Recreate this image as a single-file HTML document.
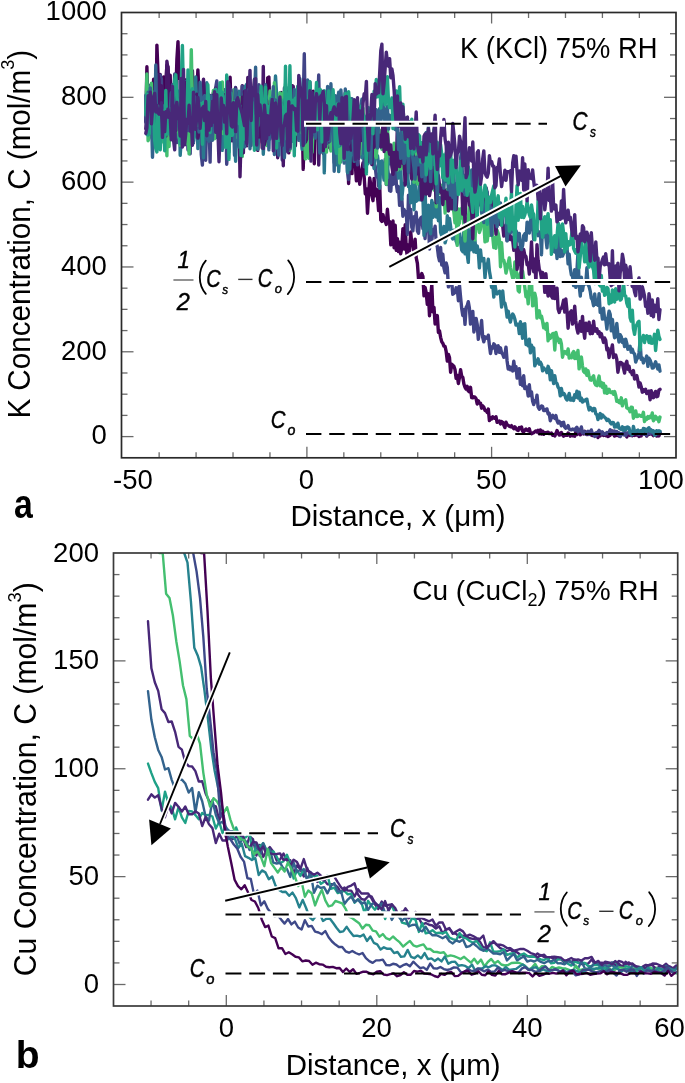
<!DOCTYPE html><html><head><meta charset="utf-8"><style>html,body{margin:0;padding:0;background:#fff;}svg{display:block;will-change:transform;}</style></head><body><svg width="685" height="1083" viewBox="0 0 685 1083">
<rect width="685" height="1083" fill="#fff"/>
<defs><clipPath id="ca"><rect x="121.5" y="12.5" width="554.5" height="445.3"/></clipPath><clipPath id="cb"><rect x="113.5" y="553.0" width="564.2" height="453.0"/></clipPath></defs>
<g clip-path="url(#ca)" fill="none" stroke-width="3.4" stroke-linejoin="round" stroke-linecap="round">
<polyline points="145.8,121.0 146.9,66.7 148.1,109.9 149.2,97.5 150.3,93.8 151.4,107.3 152.5,120.0 153.6,79.3 154.7,85.2 155.8,131.9 156.9,45.1 158.0,73.0 159.1,108.0 160.2,74.5 161.4,102.2 162.5,94.1 163.6,77.0 164.7,118.4 165.8,81.5 166.9,65.0 168.0,66.6 169.1,99.4 170.2,75.3 171.3,126.2 172.4,96.9 173.5,84.7 174.7,120.9 175.8,95.6 176.9,59.4 178.0,41.6 179.1,78.7 180.2,77.8 181.3,113.9 182.4,119.0 183.5,123.2 184.6,84.1 185.7,80.0 186.8,108.5 188.0,120.0 189.1,90.4 190.2,89.4 191.3,98.4 192.4,70.6 193.5,98.0 194.6,97.6 195.7,118.6 196.8,93.9 197.9,69.9 199.0,95.8 200.1,95.9 201.3,88.9 202.4,92.4 203.5,87.7 204.6,87.9 205.7,86.7 206.8,115.2 207.9,93.9 209.0,132.0 210.1,95.5 211.2,126.1 212.3,103.1 213.4,92.8 214.5,110.8 215.7,101.2 216.8,135.7 217.9,120.9 219.0,91.1 220.1,127.6 221.2,92.8 222.3,133.0 223.4,124.0 224.5,128.1 225.6,107.1 226.7,97.2 227.8,128.5 229.0,111.8 230.1,77.2 231.2,114.9 232.3,124.8 233.4,101.8 234.5,113.8 235.6,123.1 236.7,144.4 237.8,94.2 238.9,121.1 240.0,110.3 241.1,130.9 242.3,85.6 243.4,96.4 244.5,92.1 245.6,113.1 246.7,102.2 247.8,94.2 248.9,91.8 250.0,105.5 251.1,112.8 252.2,118.6 253.3,126.1 254.4,130.4 255.6,105.1 256.7,116.8 257.8,150.4 258.9,115.3 260.0,92.1 261.1,117.8 262.2,148.0 263.3,115.1 264.4,97.8 265.5,109.1 266.6,121.2 267.7,77.9 268.9,77.0 270.0,115.2 271.1,97.9 272.2,106.1 273.3,98.8 274.4,86.1 275.5,98.3 276.6,112.3 277.7,126.5 278.8,129.6 279.9,114.8 281.0,92.5 282.2,108.9 283.3,113.8 284.4,110.1 285.5,114.4 286.6,104.9 287.7,136.7 288.8,152.9 289.9,123.8 291.0,137.6 292.1,85.7 293.2,119.3 294.3,121.3 295.4,145.7 296.6,111.7 297.7,128.9 298.8,96.5 299.9,102.0 301.0,132.5 302.1,110.6 303.2,169.4 304.3,131.5 305.4,96.1 306.5,105.0 307.6,116.8 308.7,121.1 309.9,147.3 311.0,146.9 312.1,118.5 313.2,91.2 314.3,163.8 315.4,113.7 316.5,115.2 317.6,109.9 318.7,143.6 319.8,138.4 320.9,129.1 322.0,149.0 323.2,153.4 324.3,148.1 325.4,134.6 326.5,127.6 327.6,135.3 328.7,134.2 329.8,148.0 330.9,149.3 332.0,118.5 333.1,139.2 334.2,140.4 335.3,123.9 336.5,119.6 337.6,119.9 338.7,135.2 339.8,143.6 340.9,138.9 342.0,141.7 343.1,122.9 344.2,141.9 345.3,137.5 346.4,149.3 347.5,128.4 348.6,183.5 349.8,146.8 350.9,142.6 352.0,173.6 353.1,125.1 354.2,161.8 355.3,164.2 356.4,180.8 357.5,156.3 358.6,169.7 359.7,184.2 360.8,174.7 361.9,169.5 363.0,163.0 364.2,177.3 365.3,193.8 366.4,189.0 367.5,213.2 368.6,194.2 369.7,177.9 370.8,184.8 371.9,195.3 373.0,200.7 374.1,178.4 375.2,195.8 376.3,189.3 377.5,196.6 378.6,210.5 379.7,185.2 380.8,220.0 381.9,221.4 383.0,214.6 384.1,220.6 385.2,221.3 386.3,224.5 387.4,209.3 388.5,222.4 389.6,221.5 390.8,244.9 391.9,239.2 393.0,221.0 394.1,247.7 395.2,225.3 396.3,250.4 397.4,238.6 398.5,251.6 399.6,242.1 400.7,253.8 401.8,247.7 402.9,228.6 404.1,249.0 405.2,224.8 406.3,249.5 407.4,256.5 408.5,244.6 409.6,250.6 410.7,232.0 411.8,243.6 412.9,244.0 414.0,252.5 415.1,239.1 416.2,257.6 417.4,263.4 418.5,278.6 419.6,282.4 420.7,276.6 421.8,273.6 422.9,276.3 424.0,295.9 425.1,287.4 426.2,292.6 427.3,304.4 428.4,293.8 429.5,315.7 430.6,298.7 431.8,284.6 432.9,311.9 434.0,307.3 435.1,324.0 436.2,320.5 437.3,315.6 438.4,332.3 439.5,330.9 440.6,337.3 441.7,341.7 442.8,343.2 443.9,346.2 445.1,346.5 446.2,351.7 447.3,361.1 448.4,354.4 449.5,357.6 450.6,372.2 451.7,364.2 452.8,365.3 453.9,366.3 455.0,369.5 456.1,378.3 457.2,375.3 458.4,383.5 459.5,377.1 460.6,369.8 461.7,376.4 462.8,377.3 463.9,384.0 465.0,387.3 466.1,389.0 467.2,386.3 468.3,391.0 469.4,391.8 470.5,387.3 471.7,397.7 472.8,397.9 473.9,396.8 475.0,397.1 476.1,398.7 477.2,404.0 478.3,400.8 479.4,403.1 480.5,403.1 481.6,408.2 482.7,405.9 483.8,407.1 485.0,410.5 486.1,410.6 487.2,412.5 488.3,409.0 489.4,420.6 490.5,417.6 491.6,418.9 492.7,416.7 493.8,418.1 494.9,418.3 496.0,416.7 497.1,422.4 498.2,421.6 499.4,421.1 500.5,423.9 501.6,421.6 502.7,422.4 503.8,425.1 504.9,427.6 506.0,422.1 507.1,424.7 508.2,425.2 509.3,426.2 510.4,426.7 511.5,425.6 512.7,427.4 513.8,428.7 514.9,426.9 516.0,428.3 517.1,430.0 518.2,430.5 519.3,427.6 520.4,428.8 521.5,427.0 522.6,431.2 523.7,431.8 524.8,430.2 526.0,429.0 527.1,430.3 528.2,430.8 529.3,428.8 530.4,432.8 531.5,433.7 532.6,433.1 533.7,432.6 534.8,431.7 535.9,430.9 537.0,431.9 538.1,430.3 539.3,433.8 540.4,430.0 541.5,434.0 542.6,431.2 543.7,434.3 544.8,432.5 545.9,433.0 547.0,432.4 548.1,432.2 549.2,433.6 550.3,433.5 551.4,433.1 552.6,435.3 553.7,434.6 554.8,435.9 555.9,433.6 557.0,430.6 558.1,432.7 559.2,435.0 560.3,434.8 561.4,432.5 562.5,434.6 563.6,436.2 564.7,435.4 565.8,435.4 567.0,435.4 568.1,433.1 569.2,434.0 570.3,436.1 571.4,434.9 572.5,435.7 573.6,435.8 574.7,436.2 575.8,431.8 576.9,434.6 578.0,433.4 579.1,433.0 580.3,434.8 581.4,433.5 582.5,433.5 583.6,433.9 584.7,431.2 585.8,433.8 586.9,434.5 588.0,433.3 589.1,431.8 590.2,432.9 591.3,434.9 592.4,435.5 593.6,435.6 594.7,435.2 595.8,433.8 596.9,433.2 598.0,437.5 599.1,434.4 600.2,435.9 601.3,433.4 602.4,433.1 603.5,435.4 604.6,434.9 605.7,435.6 606.9,433.8 608.0,436.5 609.1,435.8 610.2,435.2 611.3,432.6 612.4,431.0 613.5,434.3 614.6,436.0 615.7,434.2 616.8,435.5 617.9,433.7 619.0,435.9 620.2,434.9 621.3,434.4 622.4,433.7 623.5,434.5 624.6,432.7 625.7,434.3 626.8,436.9 627.9,433.2 629.0,434.9 630.1,435.4 631.2,432.4 632.3,435.8 633.4,434.4 634.6,435.4 635.7,432.6 636.8,435.0 637.9,434.2 639.0,436.4 640.1,432.5 641.2,436.0 642.3,433.2 643.4,433.0 644.5,432.8 645.6,432.0 646.7,436.1 647.9,433.9 649.0,434.3 650.1,433.9 651.2,433.0 652.3,434.4 653.4,435.6 654.5,434.6 655.6,432.4 656.7,436.1 657.8,434.4 658.9,435.9 660.0,433.0" stroke="#440154"/>
<polyline points="145.8,122.2 146.9,83.0 148.1,123.1 149.2,103.4 150.3,85.1 151.4,97.1 152.5,110.9 153.6,91.9 154.7,138.6 155.8,134.9 156.9,118.9 158.0,115.6 159.1,113.2 160.2,75.3 161.4,79.0 162.5,112.1 163.6,106.5 164.7,128.8 165.8,105.3 166.9,137.1 168.0,84.6 169.1,121.4 170.2,100.8 171.3,136.5 172.4,84.8 173.5,99.8 174.7,74.0 175.8,110.2 176.9,142.6 178.0,126.6 179.1,135.6 180.2,81.4 181.3,123.6 182.4,126.0 183.5,100.2 184.6,106.6 185.7,102.2 186.8,121.3 188.0,150.0 189.1,137.8 190.2,153.8 191.3,87.3 192.4,94.4 193.5,119.0 194.6,99.9 195.7,99.0 196.8,99.7 197.9,101.8 199.0,95.1 200.1,110.4 201.3,154.5 202.4,165.0 203.5,87.9 204.6,100.7 205.7,160.2 206.8,108.9 207.9,129.0 209.0,122.7 210.1,162.1 211.2,97.6 212.3,114.0 213.4,96.8 214.5,91.6 215.7,87.8 216.8,81.0 217.9,107.0 219.0,108.4 220.1,124.8 221.2,102.6 222.3,117.3 223.4,135.2 224.5,89.8 225.6,99.2 226.7,164.2 227.8,148.5 229.0,117.2 230.1,138.7 231.2,89.6 232.3,109.6 233.4,102.2 234.5,95.2 235.6,87.5 236.7,118.4 237.8,101.2 238.9,108.4 240.0,98.0 241.1,102.7 242.3,86.1 243.4,103.1 244.5,122.6 245.6,111.2 246.7,135.3 247.8,107.5 248.9,84.8 250.0,125.3 251.1,145.4 252.2,115.4 253.3,123.6 254.4,114.0 255.6,125.4 256.7,112.6 257.8,133.7 258.9,84.6 260.0,118.7 261.1,104.6 262.2,100.0 263.3,117.5 264.4,106.0 265.5,119.4 266.6,123.3 267.7,119.1 268.9,105.6 270.0,139.1 271.1,132.3 272.2,130.4 273.3,126.0 274.4,93.3 275.5,116.0 276.6,121.3 277.7,112.8 278.8,95.5 279.9,129.9 281.0,96.4 282.2,160.0 283.3,132.8 284.4,88.1 285.5,86.6 286.6,112.5 287.7,124.2 288.8,100.7 289.9,124.1 291.0,87.2 292.1,94.1 293.2,102.0 294.3,132.5 295.4,98.4 296.6,121.5 297.7,121.2 298.8,124.9 299.9,119.2 301.0,107.7 302.1,101.3 303.2,101.3 304.3,53.7 305.4,123.8 306.5,95.8 307.6,129.9 308.7,121.3 309.9,139.6 311.0,95.6 312.1,113.6 313.2,116.3 314.3,121.3 315.4,102.5 316.5,129.2 317.6,113.2 318.7,75.0 319.8,124.3 320.9,133.7 322.0,141.3 323.2,108.9 324.3,123.1 325.4,138.5 326.5,140.6 327.6,126.0 328.7,145.0 329.8,91.0 330.9,132.2 332.0,132.8 333.1,132.1 334.2,162.7 335.3,157.1 336.5,139.1 337.6,134.2 338.7,155.6 339.8,106.8 340.9,128.5 342.0,115.4 343.1,118.3 344.2,142.3 345.3,99.3 346.4,138.1 347.5,171.6 348.6,179.5 349.8,142.6 350.9,129.6 352.0,143.2 353.1,117.9 354.2,150.9 355.3,138.3 356.4,136.7 357.5,164.9 358.6,145.4 359.7,145.6 360.8,135.7 361.9,135.1 363.0,139.7 364.2,166.7 365.3,145.8 366.4,142.2 367.5,158.5 368.6,149.4 369.7,150.3 370.8,145.7 371.9,162.5 373.0,158.1 374.1,163.2 375.2,166.2 376.3,176.8 377.5,174.1 378.6,186.0 379.7,174.7 380.8,164.0 381.9,166.2 383.0,165.7 384.1,178.1 385.2,159.3 386.3,184.5 387.4,169.4 388.5,174.8 389.6,190.7 390.8,191.2 391.9,174.0 393.0,184.4 394.1,183.2 395.2,150.4 396.3,183.8 397.4,191.7 398.5,186.6 399.6,205.4 400.7,203.0 401.8,198.5 402.9,216.2 404.1,209.4 405.2,213.4 406.3,211.8 407.4,234.4 408.5,195.1 409.6,216.3 410.7,209.4 411.8,227.3 412.9,230.8 414.0,216.7 415.1,221.6 416.2,212.3 417.4,231.1 418.5,233.3 419.6,220.5 420.7,218.1 421.8,217.1 422.9,228.6 424.0,226.4 425.1,238.5 426.2,216.6 427.3,219.0 428.4,219.9 429.5,249.0 430.6,223.6 431.8,241.2 432.9,229.7 434.0,232.0 435.1,226.2 436.2,242.7 437.3,246.8 438.4,256.0 439.5,260.8 440.6,247.4 441.7,265.0 442.8,254.2 443.9,267.5 445.1,272.8 446.2,262.9 447.3,267.5 448.4,286.9 449.5,283.2 450.6,284.6 451.7,281.3 452.8,294.3 453.9,293.4 455.0,292.5 456.1,287.8 457.2,288.0 458.4,300.7 459.5,285.4 460.6,297.4 461.7,308.4 462.8,315.6 463.9,309.6 465.0,324.3 466.1,307.3 467.2,305.6 468.3,301.7 469.4,308.1 470.5,324.1 471.7,316.0 472.8,311.4 473.9,332.0 475.0,325.4 476.1,318.4 477.2,324.3 478.3,339.3 479.4,332.1 480.5,330.9 481.6,320.5 482.7,337.3 483.8,341.8 485.0,336.8 486.1,338.0 487.2,338.4 488.3,335.2 489.4,345.1 490.5,353.5 491.6,347.0 492.7,348.1 493.8,343.8 494.9,345.1 496.0,353.5 497.1,346.4 498.2,345.8 499.4,352.4 500.5,347.8 501.6,352.8 502.7,354.1 503.8,357.3 504.9,354.6 506.0,347.1 507.1,361.0 508.2,369.0 509.3,366.6 510.4,369.8 511.5,367.5 512.7,371.0 513.8,361.2 514.9,370.0 516.0,366.6 517.1,378.1 518.2,376.9 519.3,368.8 520.4,384.3 521.5,378.2 522.6,385.8 523.7,375.8 524.8,388.5 526.0,386.7 527.1,388.6 528.2,396.1 529.3,384.7 530.4,395.6 531.5,392.0 532.6,400.9 533.7,404.6 534.8,400.8 535.9,401.8 537.0,395.1 538.1,407.0 539.3,409.2 540.4,407.7 541.5,406.0 542.6,406.3 543.7,410.6 544.8,410.6 545.9,409.3 547.0,409.0 548.1,414.0 549.2,413.2 550.3,420.8 551.4,417.6 552.6,415.3 553.7,417.2 554.8,418.5 555.9,415.6 557.0,420.5 558.1,423.1 559.2,421.4 560.3,422.4 561.4,425.8 562.5,422.7 563.6,422.3 564.7,427.1 565.8,428.2 567.0,427.3 568.1,425.6 569.2,429.0 570.3,429.7 571.4,429.9 572.5,429.0 573.6,429.4 574.7,430.3 575.8,428.5 576.9,427.2 578.0,431.8 579.1,429.6 580.3,430.9 581.4,427.0 582.5,433.0 583.6,432.3 584.7,431.7 585.8,434.1 586.9,432.4 588.0,431.2 589.1,434.4 590.2,432.2 591.3,429.9 592.4,433.4 593.6,433.9 594.7,436.4 595.8,432.9 596.9,435.1 598.0,432.0 599.1,430.4 600.2,432.0 601.3,434.0 602.4,431.9 603.5,433.6 604.6,434.5 605.7,433.6 606.9,432.6 608.0,433.4 609.1,432.1 610.2,429.8 611.3,432.0 612.4,431.8 613.5,433.8 614.6,431.0 615.7,432.4 616.8,431.5 617.9,434.2 619.0,432.8 620.2,436.6 621.3,433.8 622.4,434.5 623.5,434.7 624.6,430.8 625.7,435.4 626.8,433.4 627.9,433.3 629.0,432.3 630.1,431.6 631.2,435.3 632.3,433.8 633.4,434.0 634.6,432.0 635.7,431.7 636.8,433.7 637.9,433.9 639.0,434.5 640.1,432.6 641.2,430.7 642.3,432.5 643.4,434.1 644.5,434.3 645.6,434.1 646.7,435.5 647.9,430.7 649.0,433.0 650.1,433.7 651.2,430.0 652.3,432.9 653.4,431.1 654.5,432.9 655.6,431.7 656.7,433.2 657.8,433.8 658.9,432.7 660.0,432.2" stroke="#414487"/>
<polyline points="145.8,108.5 146.9,100.3 148.1,87.5 149.2,115.0 150.3,117.4 151.4,113.3 152.5,105.1 153.6,115.9 154.7,132.1 155.8,123.3 156.9,99.5 158.0,132.9 159.1,98.2 160.2,139.8 161.4,102.0 162.5,102.4 163.6,117.5 164.7,114.0 165.8,117.9 166.9,81.9 168.0,121.8 169.1,127.3 170.2,106.5 171.3,92.7 172.4,107.3 173.5,116.4 174.7,94.3 175.8,127.9 176.9,128.3 178.0,137.0 179.1,90.9 180.2,155.3 181.3,138.0 182.4,109.1 183.5,106.1 184.6,81.1 185.7,105.8 186.8,123.1 188.0,87.8 189.1,93.8 190.2,92.1 191.3,93.8 192.4,104.3 193.5,141.3 194.6,133.8 195.7,76.9 196.8,113.2 197.9,148.6 199.0,113.0 200.1,96.0 201.3,106.7 202.4,113.9 203.5,157.8 204.6,113.1 205.7,116.8 206.8,82.8 207.9,114.2 209.0,115.3 210.1,122.7 211.2,116.7 212.3,109.4 213.4,124.1 214.5,131.1 215.7,137.8 216.8,112.4 217.9,121.3 219.0,120.7 220.1,143.3 221.2,130.0 222.3,150.4 223.4,97.0 224.5,92.9 225.6,107.4 226.7,117.2 227.8,106.4 229.0,143.0 230.1,140.1 231.2,93.2 232.3,134.8 233.4,116.3 234.5,128.0 235.6,161.2 236.7,128.2 237.8,100.2 238.9,91.1 240.0,162.9 241.1,145.1 242.3,126.6 243.4,97.2 244.5,93.0 245.6,86.2 246.7,84.4 247.8,124.0 248.9,134.6 250.0,98.9 251.1,121.0 252.2,115.7 253.3,123.0 254.4,123.7 255.6,99.3 256.7,135.4 257.8,149.2 258.9,129.7 260.0,114.8 261.1,122.5 262.2,119.5 263.3,154.2 264.4,133.5 265.5,97.0 266.6,120.4 267.7,130.0 268.9,96.4 270.0,128.0 271.1,103.6 272.2,113.7 273.3,110.3 274.4,98.6 275.5,76.0 276.6,94.3 277.7,134.0 278.8,139.0 279.9,124.4 281.0,121.7 282.2,105.6 283.3,118.1 284.4,115.0 285.5,150.5 286.6,119.9 287.7,109.2 288.8,87.4 289.9,104.6 291.0,117.5 292.1,141.4 293.2,119.6 294.3,119.5 295.4,122.3 296.6,116.9 297.7,110.5 298.8,111.7 299.9,78.7 301.0,138.3 302.1,149.3 303.2,113.2 304.3,143.2 305.4,124.5 306.5,122.2 307.6,135.8 308.7,106.4 309.9,109.4 311.0,118.9 312.1,110.7 313.2,106.2 314.3,128.2 315.4,112.1 316.5,120.9 317.6,123.9 318.7,132.8 319.8,93.5 320.9,119.6 322.0,151.6 323.2,117.9 324.3,172.9 325.4,123.3 326.5,115.1 327.6,104.4 328.7,126.4 329.8,143.1 330.9,97.6 332.0,114.2 333.1,110.5 334.2,137.8 335.3,123.3 336.5,164.8 337.6,127.3 338.7,171.6 339.8,153.9 340.9,161.8 342.0,118.8 343.1,123.1 344.2,148.6 345.3,119.2 346.4,138.7 347.5,172.8 348.6,147.3 349.8,169.3 350.9,140.8 352.0,136.7 353.1,154.7 354.2,130.6 355.3,127.4 356.4,158.4 357.5,136.0 358.6,146.9 359.7,150.2 360.8,120.6 361.9,157.8 363.0,153.0 364.2,149.2 365.3,140.2 366.4,137.8 367.5,164.0 368.6,130.2 369.7,123.9 370.8,121.9 371.9,149.5 373.0,159.9 374.1,168.5 375.2,148.5 376.3,155.3 377.5,155.8 378.6,164.7 379.7,188.2 380.8,161.7 381.9,161.0 383.0,164.6 384.1,180.1 385.2,164.7 386.3,163.5 387.4,177.7 388.5,153.8 389.6,163.9 390.8,162.5 391.9,160.0 393.0,170.2 394.1,169.4 395.2,162.8 396.3,161.6 397.4,161.8 398.5,178.1 399.6,167.2 400.7,164.0 401.8,199.1 402.9,187.2 404.1,183.3 405.2,183.7 406.3,161.1 407.4,169.5 408.5,186.6 409.6,186.5 410.7,202.9 411.8,198.3 412.9,170.1 414.0,209.7 415.1,182.6 416.2,201.4 417.4,199.4 418.5,199.8 419.6,179.4 420.7,199.9 421.8,200.1 422.9,195.9 424.0,235.4 425.1,188.7 426.2,231.1 427.3,220.8 428.4,205.1 429.5,227.7 430.6,233.8 431.8,200.4 432.9,217.4 434.0,203.2 435.1,208.7 436.2,217.1 437.3,197.1 438.4,220.7 439.5,197.4 440.6,232.2 441.7,235.8 442.8,234.6 443.9,226.4 445.1,242.8 446.2,238.8 447.3,215.8 448.4,229.2 449.5,218.4 450.6,226.5 451.7,236.6 452.8,239.0 453.9,230.1 455.0,232.9 456.1,241.2 457.2,244.0 458.4,226.0 459.5,232.6 460.6,242.1 461.7,250.0 462.8,251.7 463.9,228.0 465.0,253.8 466.1,225.1 467.2,254.2 468.3,262.4 469.4,228.8 470.5,249.8 471.7,234.7 472.8,245.4 473.9,251.9 475.0,240.8 476.1,252.4 477.2,245.9 478.3,251.9 479.4,267.9 480.5,250.0 481.6,260.7 482.7,260.1 483.8,258.5 485.0,277.8 486.1,264.3 487.2,267.3 488.3,259.2 489.4,271.1 490.5,277.4 491.6,287.4 492.7,284.3 493.8,297.0 494.9,284.6 496.0,291.0 497.1,293.9 498.2,292.7 499.4,291.2 500.5,294.5 501.6,307.1 502.7,291.0 503.8,302.8 504.9,303.2 506.0,308.1 507.1,317.1 508.2,311.1 509.3,317.5 510.4,322.1 511.5,317.0 512.7,314.0 513.8,315.8 514.9,319.2 516.0,325.1 517.1,324.3 518.2,324.3 519.3,333.6 520.4,321.8 521.5,328.1 522.6,338.2 523.7,324.1 524.8,323.8 526.0,344.5 527.1,340.2 528.2,345.9 529.3,339.2 530.4,352.9 531.5,345.3 532.6,348.7 533.7,348.1 534.8,365.9 535.9,363.0 537.0,362.6 538.1,358.8 539.3,364.2 540.4,362.2 541.5,364.4 542.6,370.9 543.7,367.9 544.8,369.5 545.9,369.5 547.0,372.6 548.1,366.3 549.2,369.3 550.3,379.7 551.4,370.6 552.6,377.9 553.7,383.6 554.8,375.7 555.9,382.6 557.0,383.5 558.1,387.2 559.2,388.6 560.3,395.9 561.4,388.5 562.5,394.5 563.6,393.2 564.7,394.5 565.8,398.3 567.0,400.0 568.1,397.3 569.2,393.5 570.3,400.0 571.4,400.1 572.5,398.2 573.6,400.4 574.7,394.8 575.8,397.3 576.9,391.2 578.0,398.1 579.1,392.1 580.3,400.5 581.4,398.1 582.5,402.0 583.6,400.2 584.7,400.9 585.8,399.6 586.9,399.2 588.0,405.3 589.1,409.9 590.2,407.4 591.3,408.9 592.4,410.7 593.6,408.4 594.7,408.7 595.8,413.8 596.9,414.6 598.0,419.6 599.1,415.9 600.2,413.5 601.3,418.0 602.4,414.9 603.5,416.2 604.6,417.3 605.7,418.2 606.9,420.5 608.0,419.3 609.1,420.2 610.2,422.5 611.3,424.0 612.4,422.4 613.5,422.7 614.6,427.1 615.7,425.0 616.8,426.8 617.9,423.2 619.0,428.0 620.2,428.8 621.3,429.5 622.4,426.8 623.5,430.3 624.6,427.8 625.7,429.9 626.8,427.1 627.9,427.0 629.0,427.9 630.1,433.0 631.2,432.4 632.3,434.5 633.4,426.4 634.6,431.6 635.7,431.4 636.8,430.8 637.9,430.1 639.0,431.5 640.1,431.0 641.2,431.1 642.3,433.1 643.4,428.5 644.5,428.6 645.6,431.2 646.7,431.5 647.9,428.5 649.0,427.7 650.1,431.3 651.2,430.4 652.3,432.0 653.4,430.9 654.5,435.2 655.6,434.8 656.7,430.7 657.8,431.7 658.9,430.8 660.0,431.3" stroke="#2a788e"/>
<polyline points="145.8,112.2 146.9,74.0 148.1,140.7 149.2,137.8 150.3,111.0 151.4,83.2 152.5,137.9 153.6,114.3 154.7,118.9 155.8,126.0 156.9,120.3 158.0,92.3 159.1,112.9 160.2,140.6 161.4,127.3 162.5,113.9 163.6,142.3 164.7,128.9 165.8,123.5 166.9,155.7 168.0,80.6 169.1,146.5 170.2,114.7 171.3,119.2 172.4,127.4 173.5,93.0 174.7,114.8 175.8,131.9 176.9,93.8 178.0,105.6 179.1,135.7 180.2,145.1 181.3,99.3 182.4,118.7 183.5,143.9 184.6,105.7 185.7,143.5 186.8,129.3 188.0,131.8 189.1,153.9 190.2,103.2 191.3,49.6 192.4,104.0 193.5,108.5 194.6,121.2 195.7,117.6 196.8,111.0 197.9,104.4 199.0,125.8 200.1,115.5 201.3,120.3 202.4,105.5 203.5,98.2 204.6,95.2 205.7,124.5 206.8,125.1 207.9,102.8 209.0,120.8 210.1,119.9 211.2,107.0 212.3,108.5 213.4,90.4 214.5,138.7 215.7,94.3 216.8,124.5 217.9,102.7 219.0,140.2 220.1,118.0 221.2,127.4 222.3,81.9 223.4,133.6 224.5,93.9 225.6,130.9 226.7,136.9 227.8,109.8 229.0,95.5 230.1,116.8 231.2,104.3 232.3,111.2 233.4,116.8 234.5,89.4 235.6,115.7 236.7,99.2 237.8,137.7 238.9,119.4 240.0,97.9 241.1,124.5 242.3,156.5 243.4,101.6 244.5,104.9 245.6,121.3 246.7,113.8 247.8,122.3 248.9,108.7 250.0,95.1 251.1,110.1 252.2,117.8 253.3,125.3 254.4,119.2 255.6,125.7 256.7,97.9 257.8,136.3 258.9,127.3 260.0,109.8 261.1,110.1 262.2,111.7 263.3,124.5 264.4,112.7 265.5,143.5 266.6,145.4 267.7,140.9 268.9,109.6 270.0,91.0 271.1,124.9 272.2,127.4 273.3,122.4 274.4,82.8 275.5,112.9 276.6,115.1 277.7,127.6 278.8,107.7 279.9,92.6 281.0,113.5 282.2,132.3 283.3,92.6 284.4,117.7 285.5,83.9 286.6,137.2 287.7,120.2 288.8,112.6 289.9,150.4 291.0,115.9 292.1,106.4 293.2,120.3 294.3,109.8 295.4,114.8 296.6,134.0 297.7,104.9 298.8,132.5 299.9,124.2 301.0,132.5 302.1,107.0 303.2,127.7 304.3,127.9 305.4,158.9 306.5,124.5 307.6,101.0 308.7,158.2 309.9,113.0 311.0,120.8 312.1,152.2 313.2,128.2 314.3,103.4 315.4,121.3 316.5,115.1 317.6,101.7 318.7,128.1 319.8,107.0 320.9,145.6 322.0,139.1 323.2,98.0 324.3,100.2 325.4,108.2 326.5,152.1 327.6,129.9 328.7,142.1 329.8,93.1 330.9,151.0 332.0,150.1 333.1,138.7 334.2,123.1 335.3,139.3 336.5,134.9 337.6,125.1 338.7,130.2 339.8,163.0 340.9,152.8 342.0,104.5 343.1,131.6 344.2,102.4 345.3,108.9 346.4,115.1 347.5,132.7 348.6,109.0 349.8,141.8 350.9,98.5 352.0,125.6 353.1,125.9 354.2,142.0 355.3,145.2 356.4,140.4 357.5,145.0 358.6,150.8 359.7,154.3 360.8,134.8 361.9,119.7 363.0,108.2 364.2,127.0 365.3,140.6 366.4,129.9 367.5,113.8 368.6,137.9 369.7,125.2 370.8,134.9 371.9,139.2 373.0,150.0 374.1,131.5 375.2,154.7 376.3,157.7 377.5,138.4 378.6,129.5 379.7,130.7 380.8,132.2 381.9,149.2 383.0,147.0 384.1,129.1 385.2,115.9 386.3,184.2 387.4,128.5 388.5,142.8 389.6,146.8 390.8,156.6 391.9,155.3 393.0,163.6 394.1,143.2 395.2,161.2 396.3,150.8 397.4,170.0 398.5,133.4 399.6,141.9 400.7,169.0 401.8,148.0 402.9,161.3 404.1,169.3 405.2,157.6 406.3,148.1 407.4,139.8 408.5,157.4 409.6,145.6 410.7,152.8 411.8,153.4 412.9,150.0 414.0,182.2 415.1,170.0 416.2,145.6 417.4,184.0 418.5,178.0 419.6,142.6 420.7,181.4 421.8,166.7 422.9,165.1 424.0,172.7 425.1,157.1 426.2,158.3 427.3,178.8 428.4,148.0 429.5,181.5 430.6,177.7 431.8,175.1 432.9,172.1 434.0,190.0 435.1,174.7 436.2,206.8 437.3,187.2 438.4,193.8 439.5,193.1 440.6,187.3 441.7,185.2 442.8,199.3 443.9,192.2 445.1,213.1 446.2,202.1 447.3,189.2 448.4,210.9 449.5,208.7 450.6,207.3 451.7,199.1 452.8,205.4 453.9,212.4 455.0,222.7 456.1,209.2 457.2,245.4 458.4,209.0 459.5,223.4 460.6,209.0 461.7,218.0 462.8,203.3 463.9,225.9 465.0,241.0 466.1,218.9 467.2,224.3 468.3,219.7 469.4,205.3 470.5,227.7 471.7,210.5 472.8,208.2 473.9,206.5 475.0,239.9 476.1,217.8 477.2,228.0 478.3,224.7 479.4,232.6 480.5,229.2 481.6,217.4 482.7,210.5 483.8,221.8 485.0,241.9 486.1,216.0 487.2,241.0 488.3,232.0 489.4,217.2 490.5,235.4 491.6,224.2 492.7,236.1 493.8,247.5 494.9,237.6 496.0,248.2 497.1,230.3 498.2,233.3 499.4,239.5 500.5,266.7 501.6,242.8 502.7,259.9 503.8,260.2 504.9,264.8 506.0,273.0 507.1,268.3 508.2,262.8 509.3,258.0 510.4,267.5 511.5,273.2 512.7,278.2 513.8,277.5 514.9,261.9 516.0,270.5 517.1,274.9 518.2,290.6 519.3,291.9 520.4,272.9 521.5,274.0 522.6,271.1 523.7,279.4 524.8,287.3 526.0,296.7 527.1,292.0 528.2,303.8 529.3,285.7 530.4,285.8 531.5,280.9 532.6,305.9 533.7,305.1 534.8,293.3 535.9,298.4 537.0,318.1 538.1,312.7 539.3,310.9 540.4,317.8 541.5,316.1 542.6,321.4 543.7,327.9 544.8,324.3 545.9,329.3 547.0,323.5 548.1,340.8 549.2,334.7 550.3,338.4 551.4,336.8 552.6,333.9 553.7,333.4 554.8,350.0 555.9,332.5 557.0,337.1 558.1,338.6 559.2,342.6 560.3,339.5 561.4,344.0 562.5,357.2 563.6,352.5 564.7,351.5 565.8,352.9 567.0,354.0 568.1,349.0 569.2,358.1 570.3,356.4 571.4,357.8 572.5,353.4 573.6,351.5 574.7,358.6 575.8,353.1 576.9,358.5 578.0,350.5 579.1,368.9 580.3,360.4 581.4,357.1 582.5,366.0 583.6,371.4 584.7,372.6 585.8,368.9 586.9,375.4 588.0,370.7 589.1,376.2 590.2,379.8 591.3,380.2 592.4,377.4 593.6,375.8 594.7,383.2 595.8,385.0 596.9,385.6 598.0,380.2 599.1,376.1 600.2,385.7 601.3,382.4 602.4,387.3 603.5,383.4 604.6,392.7 605.7,386.1 606.9,393.4 608.0,392.5 609.1,389.3 610.2,392.1 611.3,392.6 612.4,391.9 613.5,394.3 614.6,391.6 615.7,395.3 616.8,401.4 617.9,400.2 619.0,402.5 620.2,403.0 621.3,397.8 622.4,405.9 623.5,401.3 624.6,401.8 625.7,399.8 626.8,407.9 627.9,408.3 629.0,409.2 630.1,411.7 631.2,407.2 632.3,407.5 633.4,418.2 634.6,414.0 635.7,410.9 636.8,416.6 637.9,416.3 639.0,415.0 640.1,415.5 641.2,416.2 642.3,416.3 643.4,412.3 644.5,421.6 645.6,417.8 646.7,419.4 647.9,416.6 649.0,418.2 650.1,416.4 651.2,417.6 652.3,412.9 653.4,420.7 654.5,419.1 655.6,416.3 656.7,419.1 657.8,418.1 658.9,421.7 660.0,417.1" stroke="#43bf71"/>
<polyline points="145.8,128.6 146.9,114.3 148.1,132.8 149.2,99.8 150.3,114.0 151.4,115.8 152.5,119.8 153.6,96.9 154.7,104.3 155.8,113.8 156.9,118.6 158.0,74.5 159.1,80.1 160.2,131.4 161.4,85.8 162.5,99.1 163.6,103.4 164.7,101.1 165.8,136.2 166.9,61.2 168.0,69.3 169.1,108.6 170.2,109.2 171.3,106.5 172.4,122.5 173.5,98.9 174.7,110.2 175.8,130.6 176.9,119.3 178.0,122.5 179.1,121.7 180.2,116.5 181.3,97.8 182.4,118.3 183.5,141.8 184.6,82.1 185.7,121.7 186.8,82.1 188.0,105.5 189.1,99.6 190.2,126.8 191.3,108.5 192.4,117.8 193.5,111.6 194.6,101.2 195.7,118.1 196.8,94.3 197.9,138.1 199.0,131.5 200.1,102.1 201.3,100.4 202.4,89.8 203.5,79.1 204.6,101.8 205.7,95.9 206.8,105.6 207.9,107.5 209.0,112.4 210.1,108.3 211.2,121.4 212.3,113.5 213.4,95.0 214.5,100.9 215.7,88.3 216.8,119.8 217.9,117.6 219.0,102.4 220.1,127.4 221.2,128.2 222.3,98.9 223.4,116.9 224.5,94.4 225.6,109.5 226.7,119.7 227.8,131.6 229.0,88.3 230.1,113.1 231.2,128.9 232.3,140.8 233.4,136.0 234.5,119.9 235.6,88.3 236.7,130.0 237.8,106.8 238.9,108.2 240.0,176.8 241.1,137.4 242.3,97.3 243.4,152.7 244.5,91.4 245.6,113.1 246.7,145.9 247.8,77.5 248.9,116.1 250.0,83.2 251.1,109.7 252.2,128.4 253.3,92.2 254.4,79.3 255.6,89.4 256.7,137.1 257.8,102.2 258.9,137.0 260.0,125.9 261.1,88.4 262.2,142.1 263.3,66.4 264.4,144.5 265.5,139.9 266.6,100.3 267.7,118.9 268.9,117.8 270.0,133.1 271.1,101.0 272.2,110.9 273.3,116.9 274.4,131.1 275.5,144.4 276.6,115.8 277.7,157.8 278.8,128.3 279.9,103.6 281.0,102.6 282.2,123.8 283.3,165.8 284.4,105.4 285.5,99.1 286.6,115.1 287.7,91.5 288.8,96.4 289.9,148.7 291.0,120.8 292.1,125.9 293.2,86.3 294.3,95.9 295.4,114.5 296.6,105.8 297.7,99.8 298.8,130.5 299.9,120.4 301.0,118.9 302.1,125.2 303.2,123.5 304.3,112.9 305.4,142.2 306.5,139.5 307.6,102.6 308.7,88.5 309.9,82.1 311.0,151.5 312.1,111.0 313.2,134.2 314.3,128.7 315.4,122.9 316.5,111.3 317.6,108.4 318.7,165.0 319.8,130.9 320.9,99.4 322.0,117.7 323.2,150.6 324.3,138.9 325.4,135.8 326.5,102.4 327.6,88.9 328.7,142.0 329.8,112.7 330.9,127.7 332.0,112.2 333.1,127.3 334.2,143.8 335.3,135.5 336.5,136.0 337.6,98.2 338.7,138.3 339.8,115.2 340.9,140.5 342.0,137.8 343.1,122.3 344.2,136.7 345.3,92.8 346.4,104.6 347.5,147.6 348.6,119.6 349.8,103.0 350.9,150.0 352.0,136.7 353.1,105.2 354.2,144.6 355.3,120.6 356.4,132.9 357.5,129.1 358.6,149.7 359.7,134.2 360.8,140.6 361.9,105.3 363.0,124.0 364.2,133.1 365.3,135.7 366.4,124.8 367.5,161.9 368.6,152.9 369.7,152.1 370.8,150.7 371.9,164.6 373.0,131.2 374.1,147.2 375.2,120.9 376.3,142.7 377.5,147.0 378.6,135.0 379.7,135.6 380.8,147.1 381.9,134.5 383.0,124.9 384.1,151.5 385.2,126.1 386.3,149.2 387.4,134.2 388.5,148.5 389.6,154.3 390.8,144.9 391.9,166.5 393.0,174.3 394.1,152.4 395.2,156.3 396.3,169.9 397.4,123.9 398.5,149.5 399.6,166.6 400.7,149.4 401.8,149.5 402.9,163.3 404.1,161.6 405.2,185.0 406.3,156.0 407.4,133.3 408.5,144.6 409.6,147.1 410.7,171.0 411.8,179.1 412.9,153.2 414.0,162.7 415.1,171.0 416.2,174.0 417.4,158.1 418.5,163.9 419.6,180.4 420.7,177.2 421.8,199.9 422.9,194.7 424.0,172.5 425.1,187.6 426.2,194.1 427.3,179.7 428.4,167.1 429.5,195.6 430.6,189.1 431.8,188.4 432.9,152.7 434.0,171.4 435.1,181.0 436.2,202.7 437.3,173.6 438.4,175.6 439.5,185.1 440.6,192.2 441.7,188.4 442.8,204.5 443.9,189.1 445.1,191.4 446.2,198.8 447.3,193.0 448.4,210.8 449.5,177.7 450.6,195.2 451.7,208.8 452.8,184.3 453.9,186.8 455.0,199.8 456.1,209.6 457.2,193.5 458.4,186.8 459.5,184.8 460.6,182.0 461.7,183.9 462.8,214.1 463.9,196.0 465.0,222.3 466.1,189.2 467.2,197.9 468.3,192.7 469.4,204.9 470.5,205.9 471.7,212.4 472.8,238.7 473.9,206.5 475.0,171.9 476.1,185.9 477.2,202.5 478.3,195.0 479.4,193.0 480.5,205.0 481.6,198.5 482.7,195.1 483.8,205.8 485.0,195.7 486.1,187.8 487.2,193.6 488.3,201.4 489.4,208.0 490.5,199.7 491.6,216.1 492.7,219.5 493.8,200.6 494.9,221.2 496.0,234.1 497.1,211.5 498.2,214.2 499.4,210.7 500.5,224.6 501.6,211.8 502.7,226.1 503.8,236.1 504.9,228.3 506.0,225.1 507.1,240.6 508.2,233.1 509.3,230.6 510.4,239.6 511.5,236.8 512.7,240.2 513.8,250.2 514.9,241.3 516.0,241.5 517.1,269.4 518.2,259.1 519.3,247.2 520.4,253.2 521.5,277.8 522.6,259.2 523.7,249.5 524.8,255.2 526.0,256.6 527.1,264.9 528.2,262.9 529.3,274.0 530.4,263.0 531.5,241.9 532.6,263.3 533.7,271.7 534.8,258.9 535.9,282.5 537.0,244.6 538.1,260.3 539.3,269.4 540.4,272.0 541.5,278.8 542.6,272.4 543.7,275.9 544.8,292.4 545.9,273.8 547.0,287.8 548.1,296.0 549.2,281.2 550.3,284.3 551.4,296.1 552.6,298.0 553.7,285.6 554.8,298.6 555.9,295.5 557.0,288.2 558.1,309.1 559.2,312.5 560.3,308.9 561.4,308.3 562.5,305.4 563.6,300.2 564.7,312.1 565.8,299.0 567.0,311.2 568.1,328.2 569.2,316.1 570.3,312.3 571.4,310.8 572.5,324.1 573.6,320.9 574.7,306.2 575.8,320.9 576.9,328.6 578.0,333.0 579.1,326.4 580.3,321.6 581.4,331.4 582.5,316.4 583.6,330.2 584.7,338.2 585.8,323.3 586.9,328.0 588.0,330.5 589.1,322.1 590.2,333.7 591.3,326.3 592.4,333.6 593.6,321.2 594.7,330.8 595.8,331.2 596.9,328.8 598.0,333.5 599.1,331.8 600.2,336.8 601.3,333.5 602.4,337.8 603.5,342.4 604.6,338.0 605.7,340.2 606.9,349.9 608.0,348.2 609.1,357.5 610.2,351.1 611.3,350.2 612.4,344.9 613.5,357.5 614.6,355.6 615.7,355.0 616.8,359.5 617.9,372.2 619.0,365.9 620.2,362.4 621.3,362.7 622.4,363.6 623.5,368.4 624.6,373.1 625.7,363.9 626.8,361.3 627.9,369.3 629.0,366.0 630.1,371.7 631.2,371.4 632.3,374.6 633.4,370.6 634.6,379.1 635.7,376.7 636.8,375.6 637.9,380.8 639.0,387.1 640.1,383.0 641.2,386.7 642.3,392.2 643.4,389.7 644.5,391.3 645.6,389.2 646.7,393.6 647.9,392.2 649.0,391.1 650.1,399.8 651.2,390.8 652.3,394.2 653.4,397.7 654.5,394.2 655.6,391.4 656.7,396.8 657.8,396.3 658.9,390.1 660.0,389.3" stroke="#47186a"/>
<polyline points="145.8,95.4 146.9,134.4 148.1,92.2 149.2,127.1 150.3,87.9 151.4,113.9 152.5,157.3 153.6,114.4 154.7,129.5 155.8,65.0 156.9,138.4 158.0,118.4 159.1,118.1 160.2,129.1 161.4,127.0 162.5,113.8 163.6,106.0 164.7,121.2 165.8,118.2 166.9,112.9 168.0,131.6 169.1,117.7 170.2,112.4 171.3,92.9 172.4,99.8 173.5,103.4 174.7,95.2 175.8,128.4 176.9,91.1 178.0,120.5 179.1,116.1 180.2,121.4 181.3,100.5 182.4,126.0 183.5,102.1 184.6,120.4 185.7,123.4 186.8,106.0 188.0,130.5 189.1,90.5 190.2,127.8 191.3,123.3 192.4,90.7 193.5,142.9 194.6,96.6 195.7,112.9 196.8,112.5 197.9,110.5 199.0,132.0 200.1,82.3 201.3,103.9 202.4,101.8 203.5,98.8 204.6,95.7 205.7,108.6 206.8,132.9 207.9,139.7 209.0,141.1 210.1,123.7 211.2,95.6 212.3,140.3 213.4,121.8 214.5,103.6 215.7,121.8 216.8,120.4 217.9,136.1 219.0,112.3 220.1,126.9 221.2,129.2 222.3,123.5 223.4,108.6 224.5,97.0 225.6,138.2 226.7,106.4 227.8,137.3 229.0,152.0 230.1,128.9 231.2,115.0 232.3,117.2 233.4,108.9 234.5,155.2 235.6,89.3 236.7,100.3 237.8,103.4 238.9,147.0 240.0,107.4 241.1,125.9 242.3,125.6 243.4,116.0 244.5,147.0 245.6,95.5 246.7,96.7 247.8,100.9 248.9,89.3 250.0,148.8 251.1,122.0 252.2,122.8 253.3,140.2 254.4,100.7 255.6,67.3 256.7,136.5 257.8,105.3 258.9,114.8 260.0,113.3 261.1,114.3 262.2,103.2 263.3,128.3 264.4,124.0 265.5,84.7 266.6,116.2 267.7,116.6 268.9,149.9 270.0,107.5 271.1,104.9 272.2,111.4 273.3,86.7 274.4,154.5 275.5,99.9 276.6,148.0 277.7,137.1 278.8,155.1 279.9,101.7 281.0,119.9 282.2,126.0 283.3,117.1 284.4,157.8 285.5,129.8 286.6,114.5 287.7,129.6 288.8,119.7 289.9,148.5 291.0,115.5 292.1,124.5 293.2,114.8 294.3,89.4 295.4,117.6 296.6,130.5 297.7,111.9 298.8,140.4 299.9,88.5 301.0,119.4 302.1,119.4 303.2,110.4 304.3,143.5 305.4,120.3 306.5,124.3 307.6,79.9 308.7,93.2 309.9,86.0 311.0,119.6 312.1,117.7 313.2,100.9 314.3,133.4 315.4,138.0 316.5,91.9 317.6,112.2 318.7,112.3 319.8,153.0 320.9,129.3 322.0,130.2 323.2,134.7 324.3,115.8 325.4,138.8 326.5,143.6 327.6,86.5 328.7,113.5 329.8,141.1 330.9,83.8 332.0,112.3 333.1,116.1 334.2,171.3 335.3,95.8 336.5,119.6 337.6,100.7 338.7,92.2 339.8,145.6 340.9,89.9 342.0,108.2 343.1,121.0 344.2,163.1 345.3,89.0 346.4,117.7 347.5,112.8 348.6,144.0 349.8,113.3 350.9,114.2 352.0,98.8 353.1,140.1 354.2,161.4 355.3,135.5 356.4,142.1 357.5,121.3 358.6,128.7 359.7,122.9 360.8,105.6 361.9,99.2 363.0,126.1 364.2,153.1 365.3,127.8 366.4,131.2 367.5,129.4 368.6,130.7 369.7,128.8 370.8,163.1 371.9,119.3 373.0,119.4 374.1,121.2 375.2,127.1 376.3,109.7 377.5,148.0 378.6,121.3 379.7,108.4 380.8,122.2 381.9,114.4 383.0,96.3 384.1,113.3 385.2,123.7 386.3,117.9 387.4,106.0 388.5,129.0 389.6,115.3 390.8,124.2 391.9,120.3 393.0,113.1 394.1,116.7 395.2,129.5 396.3,130.0 397.4,124.3 398.5,149.5 399.6,137.7 400.7,158.3 401.8,124.8 402.9,142.5 404.1,163.4 405.2,152.7 406.3,135.8 407.4,143.6 408.5,172.3 409.6,125.1 410.7,148.3 411.8,147.8 412.9,159.1 414.0,167.8 415.1,179.1 416.2,157.1 417.4,160.6 418.5,164.8 419.6,151.4 420.7,157.9 421.8,176.7 422.9,168.2 424.0,147.0 425.1,181.0 426.2,132.5 427.3,168.8 428.4,125.8 429.5,154.4 430.6,181.6 431.8,153.4 432.9,157.9 434.0,164.4 435.1,157.8 436.2,157.9 437.3,202.4 438.4,150.4 439.5,165.6 440.6,163.6 441.7,157.1 442.8,169.3 443.9,188.1 445.1,164.0 446.2,181.2 447.3,175.8 448.4,189.6 449.5,183.4 450.6,195.0 451.7,162.9 452.8,197.4 453.9,172.6 455.0,209.8 456.1,183.6 457.2,191.0 458.4,175.3 459.5,184.5 460.6,158.2 461.7,149.1 462.8,191.4 463.9,175.1 465.0,194.7 466.1,194.6 467.2,183.3 468.3,171.8 469.4,174.9 470.5,185.5 471.7,170.0 472.8,198.4 473.9,195.8 475.0,186.7 476.1,208.8 477.2,172.4 478.3,191.9 479.4,196.3 480.5,189.4 481.6,213.0 482.7,201.1 483.8,222.5 485.0,207.2 486.1,206.6 487.2,192.0 488.3,212.7 489.4,198.8 490.5,215.9 491.6,235.2 492.7,208.1 493.8,215.8 494.9,222.8 496.0,204.9 497.1,226.7 498.2,218.3 499.4,205.2 500.5,203.1 501.6,219.8 502.7,209.2 503.8,212.2 504.9,207.1 506.0,218.0 507.1,240.8 508.2,223.4 509.3,204.7 510.4,232.9 511.5,227.9 512.7,218.3 513.8,231.3 514.9,241.7 516.0,230.8 517.1,233.2 518.2,240.9 519.3,233.5 520.4,247.2 521.5,249.6 522.6,245.3 523.7,235.6 524.8,233.8 526.0,240.3 527.1,222.2 528.2,227.3 529.3,233.0 530.4,221.3 531.5,217.6 532.6,226.0 533.7,239.5 534.8,224.8 535.9,221.6 537.0,229.9 538.1,235.7 539.3,232.0 540.4,231.8 541.5,254.7 542.6,220.1 543.7,236.6 544.8,217.5 545.9,238.0 547.0,247.8 548.1,232.1 549.2,240.5 550.3,233.3 551.4,247.4 552.6,248.3 553.7,251.3 554.8,251.9 555.9,241.6 557.0,258.5 558.1,245.0 559.2,236.7 560.3,256.6 561.4,250.1 562.5,256.0 563.6,253.4 564.7,250.0 565.8,246.8 567.0,247.4 568.1,263.9 569.2,254.3 570.3,268.3 571.4,275.1 572.5,275.3 573.6,285.5 574.7,269.6 575.8,287.3 576.9,271.3 578.0,252.3 579.1,284.5 580.3,296.1 581.4,277.3 582.5,290.6 583.6,283.6 584.7,284.3 585.8,283.3 586.9,267.8 588.0,284.7 589.1,286.5 590.2,291.1 591.3,298.2 592.4,299.9 593.6,305.7 594.7,294.0 595.8,304.2 596.9,300.6 598.0,305.3 599.1,293.6 600.2,312.3 601.3,309.0 602.4,319.1 603.5,308.3 604.6,319.0 605.7,318.6 606.9,329.1 608.0,317.3 609.1,311.1 610.2,314.2 611.3,330.8 612.4,319.4 613.5,330.6 614.6,337.7 615.7,336.8 616.8,323.4 617.9,334.7 619.0,342.0 620.2,334.8 621.3,336.9 622.4,342.5 623.5,339.9 624.6,346.6 625.7,339.3 626.8,343.4 627.9,349.4 629.0,348.2 630.1,346.2 631.2,352.2 632.3,349.2 633.4,352.8 634.6,353.9 635.7,362.1 636.8,358.8 637.9,357.9 639.0,353.0 640.1,341.0 641.2,359.4 642.3,357.9 643.4,362.9 644.5,359.5 645.6,359.5 646.7,356.0 647.9,366.4 649.0,358.3 650.1,360.1 651.2,363.2 652.3,368.1 653.4,367.8 654.5,364.6 655.6,361.8 656.7,365.5 657.8,369.0 658.9,364.9 660.0,371.2" stroke="#33638d"/>
<polyline points="145.8,115.0 146.9,94.3 148.1,135.1 149.2,133.5 150.3,93.4 151.4,110.6 152.5,102.9 153.6,105.4 154.7,140.4 155.8,148.4 156.9,151.9 158.0,106.2 159.1,143.0 160.2,149.8 161.4,126.5 162.5,118.7 163.6,110.9 164.7,150.8 165.8,90.5 166.9,134.1 168.0,113.2 169.1,117.0 170.2,135.2 171.3,108.4 172.4,109.5 173.5,94.3 174.7,79.1 175.8,74.8 176.9,97.6 178.0,102.7 179.1,122.7 180.2,143.8 181.3,81.2 182.4,45.5 183.5,94.5 184.6,124.1 185.7,107.7 186.8,123.6 188.0,69.9 189.1,98.9 190.2,125.5 191.3,108.6 192.4,88.7 193.5,138.7 194.6,111.6 195.7,125.9 196.8,114.5 197.9,125.2 199.0,112.2 200.1,106.9 201.3,103.6 202.4,144.3 203.5,102.1 204.6,115.2 205.7,128.0 206.8,116.9 207.9,84.7 209.0,118.8 210.1,132.5 211.2,102.1 212.3,119.6 213.4,102.1 214.5,110.4 215.7,89.2 216.8,127.3 217.9,122.9 219.0,94.5 220.1,82.7 221.2,111.4 222.3,92.1 223.4,106.3 224.5,115.3 225.6,147.5 226.7,75.0 227.8,93.1 229.0,159.4 230.1,100.4 231.2,127.2 232.3,135.4 233.4,126.9 234.5,101.8 235.6,117.1 236.7,120.1 237.8,119.4 238.9,123.5 240.0,106.0 241.1,155.6 242.3,141.9 243.4,119.6 244.5,139.0 245.6,113.4 246.7,123.8 247.8,109.0 248.9,119.8 250.0,105.0 251.1,116.6 252.2,102.4 253.3,123.2 254.4,150.2 255.6,116.1 256.7,115.8 257.8,125.7 258.9,96.9 260.0,106.0 261.1,86.3 262.2,123.1 263.3,123.4 264.4,106.0 265.5,87.1 266.6,129.1 267.7,106.3 268.9,116.3 270.0,121.5 271.1,98.2 272.2,98.9 273.3,102.1 274.4,128.1 275.5,115.7 276.6,147.7 277.7,105.5 278.8,140.4 279.9,120.9 281.0,99.7 282.2,120.4 283.3,113.0 284.4,128.5 285.5,66.2 286.6,139.0 287.7,126.9 288.8,118.4 289.9,65.7 291.0,126.4 292.1,114.4 293.2,100.2 294.3,155.7 295.4,98.3 296.6,108.3 297.7,86.3 298.8,85.9 299.9,105.3 301.0,93.7 302.1,127.0 303.2,136.4 304.3,119.0 305.4,110.9 306.5,120.5 307.6,106.5 308.7,102.5 309.9,81.6 311.0,117.5 312.1,123.3 313.2,105.5 314.3,110.2 315.4,103.5 316.5,82.5 317.6,129.8 318.7,100.5 319.8,89.1 320.9,90.4 322.0,142.0 323.2,120.3 324.3,90.7 325.4,114.6 326.5,106.5 327.6,116.8 328.7,91.0 329.8,110.4 330.9,120.3 332.0,113.3 333.1,89.8 334.2,108.0 335.3,145.0 336.5,153.4 337.6,103.6 338.7,146.4 339.8,114.1 340.9,129.7 342.0,113.4 343.1,130.4 344.2,159.7 345.3,93.5 346.4,119.1 347.5,121.7 348.6,91.6 349.8,107.0 350.9,100.1 352.0,122.9 353.1,117.3 354.2,111.9 355.3,130.1 356.4,106.0 357.5,112.8 358.6,125.5 359.7,127.3 360.8,106.2 361.9,123.7 363.0,114.4 364.2,116.4 365.3,124.5 366.4,173.9 367.5,115.4 368.6,107.6 369.7,130.4 370.8,129.7 371.9,102.9 373.0,133.7 374.1,91.1 375.2,97.6 376.3,79.5 377.5,96.8 378.6,89.2 379.7,82.2 380.8,108.1 381.9,96.6 383.0,66.1 384.1,96.8 385.2,104.9 386.3,89.0 387.4,76.6 388.5,102.1 389.6,107.6 390.8,104.8 391.9,98.0 393.0,128.6 394.1,99.0 395.2,99.1 396.3,91.0 397.4,93.3 398.5,103.3 399.6,86.7 400.7,121.1 401.8,126.8 402.9,104.1 404.1,129.3 405.2,141.7 406.3,142.4 407.4,135.3 408.5,155.7 409.6,121.6 410.7,132.4 411.8,119.2 412.9,154.1 414.0,145.7 415.1,151.4 416.2,135.8 417.4,139.0 418.5,134.6 419.6,136.0 420.7,162.0 421.8,142.6 422.9,145.6 424.0,147.3 425.1,140.3 426.2,174.9 427.3,158.9 428.4,154.1 429.5,163.1 430.6,168.4 431.8,139.9 432.9,140.9 434.0,129.3 435.1,165.4 436.2,183.8 437.3,142.3 438.4,155.8 439.5,165.9 440.6,144.7 441.7,154.0 442.8,177.6 443.9,154.9 445.1,180.0 446.2,152.6 447.3,178.1 448.4,183.0 449.5,154.4 450.6,152.5 451.7,169.3 452.8,182.1 453.9,160.2 455.0,167.8 456.1,168.0 457.2,178.0 458.4,194.5 459.5,183.5 460.6,161.2 461.7,190.4 462.8,185.4 463.9,186.6 465.0,175.4 466.1,185.2 467.2,195.2 468.3,166.8 469.4,189.2 470.5,188.2 471.7,201.0 472.8,212.4 473.9,188.4 475.0,198.8 476.1,190.9 477.2,222.7 478.3,174.6 479.4,195.2 480.5,186.1 481.6,209.7 482.7,196.0 483.8,196.1 485.0,185.3 486.1,189.9 487.2,224.3 488.3,197.1 489.4,197.6 490.5,202.4 491.6,195.2 492.7,190.5 493.8,186.0 494.9,211.4 496.0,209.2 497.1,200.6 498.2,195.8 499.4,217.2 500.5,208.4 501.6,225.3 502.7,211.8 503.8,215.4 504.9,208.1 506.0,198.3 507.1,222.8 508.2,208.7 509.3,231.1 510.4,209.2 511.5,192.3 512.7,229.4 513.8,217.4 514.9,247.0 516.0,206.0 517.1,185.7 518.2,220.2 519.3,205.6 520.4,193.4 521.5,217.3 522.6,206.4 523.7,217.5 524.8,214.8 526.0,210.1 527.1,201.7 528.2,210.1 529.3,214.4 530.4,217.3 531.5,204.9 532.6,212.4 533.7,214.4 534.8,239.8 535.9,222.0 537.0,231.3 538.1,200.2 539.3,211.9 540.4,203.5 541.5,228.8 542.6,237.3 543.7,230.7 544.8,216.7 545.9,232.6 547.0,219.1 548.1,213.7 549.2,233.0 550.3,219.8 551.4,254.4 552.6,244.6 553.7,238.2 554.8,235.7 555.9,247.6 557.0,237.0 558.1,222.9 559.2,225.9 560.3,231.4 561.4,246.5 562.5,223.9 563.6,233.3 564.7,251.9 565.8,233.6 567.0,248.8 568.1,241.8 569.2,245.1 570.3,244.5 571.4,236.5 572.5,227.3 573.6,248.4 574.7,251.2 575.8,253.1 576.9,249.0 578.0,248.6 579.1,267.9 580.3,256.0 581.4,236.7 582.5,252.3 583.6,250.5 584.7,261.8 585.8,241.6 586.9,255.9 588.0,263.8 589.1,267.1 590.2,255.5 591.3,243.9 592.4,266.2 593.6,270.3 594.7,283.6 595.8,259.8 596.9,277.8 598.0,278.0 599.1,284.1 600.2,286.0 601.3,275.5 602.4,291.1 603.5,286.0 604.6,295.4 605.7,294.2 606.9,287.5 608.0,288.7 609.1,303.7 610.2,294.9 611.3,302.6 612.4,289.9 613.5,299.9 614.6,302.1 615.7,288.6 616.8,299.2 617.9,294.2 619.0,290.2 620.2,300.1 621.3,299.2 622.4,293.3 623.5,282.1 624.6,295.5 625.7,296.0 626.8,303.2 627.9,306.4 629.0,299.0 630.1,317.8 631.2,321.1 632.3,310.2 633.4,328.4 634.6,334.4 635.7,326.0 636.8,325.0 637.9,322.3 639.0,321.3 640.1,349.9 641.2,338.1 642.3,339.3 643.4,335.4 644.5,342.6 645.6,337.3 646.7,335.8 647.9,336.4 649.0,342.5 650.1,336.5 651.2,343.1 652.3,343.3 653.4,340.2 654.5,334.3 655.6,350.5 656.7,339.0 657.8,330.1 658.9,336.4 660.0,339.4" stroke="#21a386"/>
<polyline points="145.8,133.4 146.9,127.9 148.1,95.8 149.2,106.6 150.3,92.3 151.4,123.8 152.5,109.4 153.6,97.5 154.7,93.5 155.8,111.9 156.9,105.5 158.0,112.9 159.1,114.1 160.2,112.5 161.4,102.7 162.5,137.4 163.6,112.5 164.7,131.6 165.8,111.8 166.9,117.2 168.0,109.1 169.1,117.5 170.2,115.7 171.3,139.8 172.4,86.4 173.5,139.6 174.7,149.8 175.8,106.9 176.9,102.4 178.0,115.6 179.1,120.3 180.2,136.0 181.3,78.5 182.4,147.1 183.5,69.5 184.6,144.8 185.7,134.1 186.8,119.2 188.0,123.2 189.1,105.3 190.2,131.1 191.3,121.4 192.4,145.3 193.5,92.1 194.6,120.7 195.7,129.4 196.8,114.5 197.9,97.5 199.0,107.8 200.1,128.4 201.3,111.8 202.4,108.2 203.5,106.6 204.6,120.5 205.7,101.5 206.8,135.7 207.9,112.1 209.0,130.1 210.1,113.3 211.2,125.6 212.3,101.5 213.4,122.1 214.5,91.7 215.7,132.2 216.8,94.8 217.9,130.7 219.0,161.8 220.1,133.5 221.2,98.0 222.3,110.8 223.4,105.4 224.5,122.1 225.6,108.3 226.7,133.8 227.8,81.8 229.0,84.4 230.1,106.0 231.2,125.7 232.3,127.0 233.4,102.7 234.5,107.7 235.6,131.6 236.7,100.4 237.8,97.8 238.9,103.6 240.0,106.6 241.1,109.6 242.3,114.0 243.4,119.8 244.5,125.6 245.6,90.6 246.7,143.4 247.8,111.8 248.9,97.7 250.0,70.4 251.1,120.5 252.2,87.9 253.3,89.6 254.4,95.8 255.6,78.6 256.7,145.0 257.8,94.8 258.9,115.2 260.0,104.9 261.1,115.8 262.2,129.1 263.3,148.6 264.4,105.3 265.5,117.8 266.6,138.6 267.7,115.8 268.9,134.5 270.0,130.2 271.1,110.3 272.2,99.1 273.3,150.7 274.4,115.7 275.5,102.9 276.6,138.3 277.7,120.4 278.8,108.5 279.9,96.9 281.0,136.4 282.2,145.7 283.3,126.7 284.4,124.6 285.5,115.7 286.6,114.3 287.7,151.9 288.8,101.7 289.9,146.8 291.0,108.8 292.1,105.9 293.2,107.5 294.3,109.7 295.4,108.7 296.6,130.4 297.7,131.2 298.8,75.4 299.9,85.6 301.0,89.9 302.1,99.8 303.2,145.5 304.3,80.0 305.4,119.6 306.5,116.0 307.6,101.0 308.7,128.1 309.9,90.8 311.0,161.1 312.1,92.4 313.2,105.8 314.3,131.6 315.4,99.6 316.5,93.7 317.6,100.5 318.7,97.9 319.8,120.2 320.9,95.8 322.0,95.8 323.2,91.5 324.3,103.1 325.4,146.6 326.5,105.7 327.6,139.9 328.7,130.1 329.8,118.2 330.9,112.8 332.0,121.5 333.1,110.2 334.2,106.9 335.3,113.0 336.5,115.0 337.6,110.0 338.7,103.9 339.8,133.2 340.9,143.6 342.0,97.7 343.1,114.5 344.2,158.3 345.3,97.0 346.4,96.6 347.5,149.5 348.6,138.0 349.8,126.2 350.9,138.5 352.0,128.1 353.1,118.1 354.2,99.7 355.3,159.8 356.4,115.2 357.5,97.8 358.6,158.4 359.7,111.0 360.8,117.6 361.9,126.0 363.0,103.3 364.2,93.7 365.3,97.4 366.4,81.4 367.5,127.9 368.6,150.3 369.7,124.3 370.8,112.2 371.9,94.5 373.0,103.4 374.1,119.8 375.2,83.6 376.3,94.1 377.5,92.0 378.6,92.6 379.7,72.8 380.8,50.8 381.9,44.3 383.0,93.8 384.1,83.3 385.2,67.4 386.3,52.2 387.4,61.9 388.5,66.2 389.6,58.6 390.8,77.7 391.9,69.0 393.0,75.6 394.1,90.0 395.2,110.5 396.3,125.3 397.4,95.9 398.5,126.3 399.6,112.4 400.7,103.0 401.8,129.2 402.9,106.7 404.1,122.3 405.2,139.2 406.3,117.8 407.4,117.0 408.5,136.8 409.6,122.5 410.7,148.4 411.8,130.0 412.9,127.9 414.0,148.8 415.1,132.1 416.2,112.0 417.4,144.1 418.5,151.9 419.6,156.7 420.7,147.2 421.8,152.7 422.9,161.8 424.0,136.2 425.1,134.0 426.2,154.9 427.3,140.6 428.4,128.6 429.5,138.1 430.6,141.2 431.8,134.0 432.9,153.8 434.0,130.3 435.1,115.3 436.2,152.0 437.3,169.5 438.4,152.1 439.5,156.0 440.6,138.3 441.7,124.5 442.8,135.0 443.9,119.4 445.1,139.3 446.2,145.8 447.3,176.0 448.4,142.3 449.5,157.1 450.6,155.2 451.7,151.0 452.8,123.4 453.9,134.1 455.0,146.3 456.1,167.5 457.2,153.5 458.4,151.8 459.5,136.2 460.6,141.8 461.7,143.4 462.8,165.8 463.9,140.6 465.0,117.8 466.1,177.6 467.2,174.0 468.3,159.8 469.4,147.8 470.5,158.5 471.7,161.0 472.8,142.0 473.9,178.1 475.0,192.0 476.1,184.9 477.2,152.6 478.3,150.8 479.4,169.5 480.5,184.2 481.6,176.3 482.7,159.0 483.8,150.9 485.0,172.9 486.1,175.7 487.2,177.1 488.3,173.0 489.4,155.7 490.5,162.9 491.6,161.5 492.7,166.0 493.8,166.1 494.9,187.8 496.0,185.7 497.1,167.5 498.2,167.6 499.4,159.0 500.5,175.3 501.6,186.6 502.7,178.3 503.8,179.7 504.9,170.1 506.0,180.3 507.1,171.7 508.2,171.6 509.3,171.7 510.4,170.9 511.5,191.6 512.7,162.8 513.8,155.7 514.9,166.4 516.0,156.2 517.1,171.9 518.2,184.8 519.3,170.9 520.4,178.8 521.5,180.2 522.6,157.8 523.7,190.0 524.8,163.9 526.0,185.6 527.1,200.7 528.2,169.6 529.3,178.2 530.4,177.8 531.5,178.7 532.6,170.0 533.7,180.8 534.8,190.4 535.9,190.2 537.0,185.3 538.1,199.0 539.3,188.6 540.4,218.7 541.5,196.2 542.6,195.5 543.7,187.6 544.8,209.8 545.9,200.5 547.0,194.3 548.1,168.1 549.2,200.5 550.3,196.9 551.4,211.1 552.6,181.0 553.7,208.6 554.8,209.1 555.9,205.1 557.0,221.9 558.1,219.3 559.2,213.1 560.3,219.3 561.4,200.9 562.5,218.0 563.6,189.4 564.7,211.3 565.8,222.9 567.0,214.4 568.1,210.2 569.2,219.5 570.3,217.3 571.4,227.0 572.5,235.5 573.6,231.1 574.7,214.6 575.8,238.3 576.9,236.3 578.0,251.9 579.1,243.5 580.3,233.9 581.4,240.6 582.5,225.7 583.6,227.6 584.7,241.7 585.8,238.8 586.9,232.2 588.0,236.3 589.1,244.3 590.2,261.0 591.3,232.7 592.4,248.1 593.6,249.4 594.7,260.2 595.8,241.9 596.9,258.9 598.0,258.0 599.1,279.7 600.2,266.4 601.3,263.4 602.4,259.6 603.5,257.0 604.6,264.9 605.7,253.7 606.9,264.1 608.0,264.8 609.1,263.8 610.2,279.7 611.3,285.7 612.4,250.8 613.5,284.1 614.6,275.3 615.7,265.9 616.8,278.1 617.9,263.1 619.0,290.8 620.2,272.5 621.3,268.2 622.4,254.2 623.5,260.2 624.6,279.1 625.7,265.1 626.8,270.5 627.9,284.0 629.0,278.9 630.1,266.8 631.2,279.6 632.3,286.6 633.4,285.4 634.6,292.0 635.7,295.7 636.8,281.2 637.9,281.5 639.0,277.9 640.1,299.1 641.2,297.0 642.3,286.7 643.4,290.9 644.5,295.8 645.6,306.2 646.7,302.4 647.9,313.2 649.0,293.7 650.1,301.7 651.2,315.4 652.3,300.0 653.4,316.8 654.5,305.2 655.6,308.0 656.7,311.6 657.8,298.7 658.9,319.5 660.0,309.6" stroke="#482878"/>
</g>
<g clip-path="url(#cb)" fill="none" stroke-width="2.4" stroke-linejoin="round" stroke-linecap="round">
<polyline points="148.0,621.3 151.4,668.3 154.8,682.3 158.2,690.9 161.6,709.3 165.0,713.1 168.4,722.0 171.7,721.5 175.1,731.8 178.5,746.8 181.9,749.7 185.3,762.2 188.7,766.1 192.1,766.5 195.4,771.1 198.8,781.6 202.2,781.2 205.6,793.4 209.0,800.8 212.4,805.2 215.8,806.4 219.2,820.3 222.5,812.3 225.9,837.1 229.3,833.2 232.7,836.3 236.1,832.2 239.5,836.6 242.9,837.2 246.2,847.1 249.6,836.5 253.0,839.3 256.4,855.6 259.8,845.0 263.2,856.9 266.6,851.1 269.9,847.1 273.3,851.7 276.7,860.7 280.1,859.5 283.5,853.5 286.9,860.4 290.3,860.2 293.6,874.0 297.0,865.5 300.4,869.2 303.8,876.5 307.2,867.9 310.6,876.4 314.0,874.2 317.4,882.0 320.7,879.6 324.1,880.3 327.5,884.2 330.9,884.3 334.3,884.4 337.7,887.1 341.1,892.8 344.4,887.5 347.8,890.6 351.2,890.6 354.6,896.5 358.0,889.2 361.4,893.5 364.8,893.5 368.1,893.4 371.5,898.3 374.9,904.4 378.3,909.1 381.7,901.6 385.1,905.8 388.5,904.9 391.8,904.4 395.2,910.8 398.6,914.7 402.0,911.5 405.4,915.7 408.8,918.3 412.2,915.8 415.6,919.2 418.9,918.2 422.3,924.6 425.7,923.0 429.1,924.8 432.5,925.5 435.9,928.5 439.3,926.2 442.6,933.5 446.0,929.4 449.4,928.8 452.8,933.0 456.2,933.9 459.6,937.3 463.0,935.7 466.3,936.4 469.7,938.2 473.1,938.9 476.5,939.6 479.9,941.5 483.3,947.6 486.7,946.9 490.1,945.5 493.4,941.2 496.8,944.8 500.2,948.2 503.6,949.6 507.0,951.0 510.4,949.5 513.8,952.3 517.1,952.3 520.5,955.0 523.9,954.6 527.3,956.4 530.7,956.5 534.1,956.1 537.5,953.5 540.8,955.7 544.2,954.7 547.6,958.3 551.0,957.2 554.4,959.4 557.8,959.0 561.2,959.3 564.5,962.6 567.9,959.7 571.3,962.5 574.7,959.6 578.1,962.0 581.5,964.1 584.9,963.7 588.3,963.5 591.6,959.4 595.0,964.7 598.4,963.4 601.8,962.6 605.2,963.5 608.6,963.5 612.0,962.4 615.3,965.2 618.7,961.0 622.1,961.9 625.5,964.3 628.9,962.4 632.3,964.9 635.7,966.1 639.0,967.6 642.4,966.9 645.8,964.9 649.2,965.5 652.6,963.5 656.0,963.7 659.4,965.0 662.7,966.5 666.1,963.8 669.5,967.1 672.9,971.3 676.3,967.7" stroke="#482878"/>
<polyline points="148.0,763.6 151.4,773.1 154.8,781.9 158.2,788.1 161.6,810.6 165.0,791.6 168.4,803.3 171.7,807.7 175.1,819.3 178.5,807.2 181.9,817.4 185.3,823.0 188.7,810.9 192.1,811.5 195.4,815.1 198.8,819.2 202.2,812.9 205.6,815.2 209.0,814.9 212.4,816.5 215.8,828.5 219.2,821.7 222.5,833.0 225.9,826.9 229.3,833.2 232.7,835.9 236.1,827.4 239.5,836.3 242.9,838.3 246.2,837.2 249.6,832.0 253.0,858.5 256.4,843.3 259.8,847.0 263.2,843.1 266.6,850.2 269.9,852.5 273.3,851.3 276.7,856.7 280.1,863.2 283.5,861.2 286.9,854.8 290.3,863.1 293.6,878.5 297.0,870.4 300.4,875.9 303.8,869.0 307.2,879.8 310.6,876.8 314.0,875.8 317.4,876.0 320.7,883.9 324.1,881.7 327.5,875.2 330.9,888.9 334.3,887.7 337.7,893.0 341.1,891.9 344.4,890.9 347.8,894.3 351.2,893.7 354.6,902.8 358.0,899.2 361.4,902.6 364.8,913.6 368.1,900.8 371.5,905.8 374.9,909.7 378.3,905.1 381.7,908.1 385.1,919.0 388.5,910.5 391.8,905.2 395.2,913.5 398.6,913.1 402.0,922.6 405.4,923.5 408.8,924.5 412.2,918.0 415.6,919.9 418.9,931.9 422.3,923.0 425.7,933.3 429.1,932.6 432.5,930.2 435.9,933.2 439.3,932.7 442.6,933.3 446.0,931.8 449.4,937.5 452.8,939.1 456.2,940.2 459.6,933.1 463.0,937.4 466.3,938.4 469.7,941.0 473.1,942.8 476.5,940.9 479.9,945.6 483.3,950.1 486.7,951.2 490.1,942.3 493.4,951.6 496.8,951.6 500.2,951.2 503.6,949.3 507.0,955.0 510.4,953.7 513.8,953.1 517.1,957.4 520.5,955.1 523.9,953.5 527.3,955.9 530.7,956.8 534.1,956.5 537.5,958.1 540.8,959.4 544.2,960.1 547.6,957.8 551.0,963.3 554.4,962.8 557.8,959.2 561.2,958.9 564.5,961.5 567.9,963.7 571.3,965.6 574.7,961.6 578.1,962.8 581.5,962.8 584.9,963.0 588.3,966.1 591.6,965.9 595.0,964.9 598.4,965.3 601.8,968.2 605.2,967.7 608.6,966.0 612.0,963.2 615.3,961.6 618.7,965.8 622.1,967.0 625.5,966.1 628.9,966.7 632.3,968.6 635.7,973.1 639.0,967.0 642.4,968.6 645.8,967.7 649.2,969.5 652.6,968.5 656.0,967.7 659.4,970.5 662.7,969.5 666.1,967.2 669.5,966.9 672.9,971.6 676.3,967.0" stroke="#1fa187"/>
<polyline points="148.0,691.1 151.4,719.8 154.8,737.2 158.2,749.9 161.6,756.9 165.0,769.5 168.4,768.2 171.7,779.8 175.1,789.0 178.5,780.1 181.9,779.6 185.3,783.5 188.7,792.6 192.1,788.0 195.4,812.5 198.8,792.3 202.2,801.2 205.6,816.4 209.0,820.5 212.4,800.3 215.8,814.7 219.2,823.4 222.5,821.7 225.9,828.0 229.3,830.9 232.7,831.1 236.1,833.9 239.5,843.5 242.9,838.9 246.2,841.6 249.6,850.1 253.0,842.1 256.4,846.2 259.8,856.1 263.2,843.3 266.6,851.7 269.9,849.5 273.3,862.6 276.7,863.5 280.1,862.8 283.5,868.5 286.9,869.0 290.3,877.0 293.6,862.6 297.0,871.7 300.4,869.9 303.8,869.7 307.2,879.5 310.6,872.1 314.0,892.7 317.4,885.7 320.7,887.9 324.1,887.2 327.5,893.3 330.9,886.2 334.3,883.1 337.7,891.6 341.1,891.5 344.4,904.0 347.8,899.6 351.2,896.5 354.6,902.0 358.0,899.6 361.4,903.6 364.8,902.2 368.1,910.0 371.5,904.4 374.9,902.6 378.3,906.8 381.7,903.4 385.1,912.8 388.5,911.0 391.8,919.9 395.2,913.8 398.6,916.7 402.0,920.7 405.4,917.7 408.8,926.4 412.2,925.0 415.6,924.6 418.9,930.0 422.3,931.3 425.7,926.8 429.1,932.1 432.5,935.3 435.9,935.0 439.3,936.5 442.6,938.2 446.0,936.3 449.4,941.2 452.8,943.4 456.2,940.4 459.6,941.8 463.0,939.6 466.3,947.0 469.7,946.2 473.1,943.3 476.5,946.0 479.9,949.2 483.3,950.7 486.7,948.2 490.1,950.8 493.4,953.5 496.8,953.5 500.2,954.2 503.6,952.1 507.0,960.5 510.4,956.9 513.8,953.8 517.1,960.6 520.5,958.3 523.9,956.5 527.3,961.5 530.7,960.4 534.1,961.5 537.5,959.8 540.8,961.9 544.2,963.2 547.6,961.3 551.0,961.4 554.4,960.0 557.8,963.4 561.2,963.3 564.5,964.4 567.9,961.4 571.3,961.7 574.7,965.8 578.1,968.6 581.5,961.2 584.9,968.6 588.3,968.6 591.6,966.6 595.0,962.3 598.4,964.0 601.8,966.7 605.2,965.2 608.6,967.0 612.0,964.9 615.3,967.9 618.7,964.4 622.1,966.4 625.5,968.7 628.9,970.9 632.3,965.9 635.7,967.2 639.0,970.0 642.4,970.1 645.8,969.5 649.2,969.4 652.6,969.2 656.0,969.1 659.4,969.2 662.7,970.3 666.1,965.8 669.5,969.9 672.9,970.6 676.3,968.6" stroke="#33638d"/>
<polyline points="148.0,799.7 151.4,794.3 154.8,797.6 158.2,795.1 161.6,808.3 165.0,817.3 168.4,805.1 171.7,813.4 175.1,802.9 178.5,806.8 181.9,811.6 185.3,806.5 188.7,814.2 192.1,814.3 195.4,811.3 198.8,813.5 202.2,826.0 205.6,817.0 209.0,824.2 212.4,828.1 215.8,843.0 219.2,833.7 222.5,840.5 225.9,840.5 229.3,833.4 232.7,839.1 236.1,837.0 239.5,835.9 242.9,835.3 246.2,846.4 249.6,847.4 253.0,842.0 256.4,842.4 259.8,850.6 263.2,846.6 266.6,854.7 269.9,853.3 273.3,854.1 276.7,854.0 280.1,853.4 283.5,860.0 286.9,859.2 290.3,865.7 293.6,859.7 297.0,862.1 300.4,869.0 303.8,859.1 307.2,870.0 310.6,872.5 314.0,874.8 317.4,872.8 320.7,875.5 324.1,880.5 327.5,877.4 330.9,876.7 334.3,876.7 337.7,882.2 341.1,887.3 344.4,890.7 347.8,886.9 351.2,885.6 354.6,883.3 358.0,894.6 361.4,899.0 364.8,899.9 368.1,896.2 371.5,896.4 374.9,902.8 378.3,905.6 381.7,909.5 385.1,901.1 388.5,910.4 391.8,904.2 395.2,908.1 398.6,915.6 402.0,914.2 405.4,908.3 408.8,913.0 412.2,915.2 415.6,911.9 418.9,917.5 422.3,918.4 425.7,919.8 429.1,921.3 432.5,919.6 435.9,925.9 439.3,922.4 442.6,922.5 446.0,929.7 449.4,928.0 452.8,933.8 456.2,931.5 459.6,929.4 463.0,931.4 466.3,936.1 469.7,934.6 473.1,936.0 476.5,938.1 479.9,939.0 483.3,935.5 486.7,948.1 490.1,944.1 493.4,941.4 496.8,944.8 500.2,944.7 503.6,945.7 507.0,947.9 510.4,948.2 513.8,950.7 517.1,949.8 520.5,948.9 523.9,949.0 527.3,950.8 530.7,953.1 534.1,954.1 537.5,957.5 540.8,954.9 544.2,957.1 547.6,957.1 551.0,957.0 554.4,956.7 557.8,957.1 561.2,957.8 564.5,960.6 567.9,959.8 571.3,958.0 574.7,960.0 578.1,959.4 581.5,960.6 584.9,958.2 588.3,958.2 591.6,956.9 595.0,962.8 598.4,960.9 601.8,965.1 605.2,961.6 608.6,962.4 612.0,964.2 615.3,961.1 618.7,963.7 622.1,967.1 625.5,961.8 628.9,964.6 632.3,963.5 635.7,966.4 639.0,966.8 642.4,967.8 645.8,967.8 649.2,964.8 652.6,965.2 656.0,969.3 659.4,966.5 662.7,966.6 666.1,968.1 669.5,966.4 672.9,968.4 676.3,965.4" stroke="#482878"/>
<polyline points="159.3,553.0 162.7,553.0 166.1,593.7 169.5,598.1 172.9,615.5 176.3,641.2 179.6,661.1 183.0,685.5 186.4,699.1 189.8,735.8 193.2,739.1 196.6,733.2 200.0,743.7 203.3,772.6 206.7,794.2 210.1,806.6 213.5,798.2 216.9,801.3 220.3,807.2 223.7,812.7 227.1,807.2 230.4,819.6 233.8,829.0 237.2,834.6 240.6,839.4 244.0,839.9 247.4,846.5 250.8,848.1 254.1,854.2 257.5,851.4 260.9,856.9 264.3,866.2 267.7,849.0 271.1,863.1 274.5,867.9 277.8,872.5 281.2,867.3 284.6,871.6 288.0,862.2 291.4,869.2 294.8,876.4 298.2,886.1 301.5,881.3 304.9,896.7 308.3,890.5 311.7,893.2 315.1,905.4 318.5,896.5 321.9,889.9 325.3,900.3 328.6,906.3 332.0,905.4 335.4,901.0 338.8,902.1 342.2,903.3 345.6,908.8 349.0,916.6 352.3,918.3 355.7,920.8 359.1,923.2 362.5,928.6 365.9,924.8 369.3,925.3 372.7,930.6 376.0,931.3 379.4,936.7 382.8,934.1 386.2,938.2 389.6,939.7 393.0,936.5 396.4,939.6 399.8,942.4 403.1,946.6 406.5,943.6 409.9,940.9 413.3,945.3 416.7,946.6 420.1,945.4 423.5,944.4 426.8,949.0 430.2,949.0 433.6,951.7 437.0,952.0 440.4,952.9 443.8,952.3 447.2,956.4 450.5,955.4 453.9,956.1 457.3,957.5 460.7,959.1 464.1,956.8 467.5,959.8 470.9,962.7 474.2,958.7 477.6,963.5 481.0,959.6 484.4,966.5 487.8,962.0 491.2,959.0 494.6,963.3 498.0,961.1 501.3,964.5 504.7,965.5 508.1,965.0 511.5,963.0 514.9,962.7 518.3,962.7 521.7,964.0 525.0,965.9 528.4,969.7 531.8,967.7 535.2,963.8 538.6,969.6 542.0,966.1 545.4,966.3 548.7,970.3 552.1,966.9 555.5,968.4 558.9,967.5 562.3,968.2 565.7,968.5 569.1,969.9 572.4,971.9 575.8,965.5 579.2,970.2 582.6,969.3 586.0,969.6 589.4,969.5 592.8,970.4 596.2,968.2 599.5,969.3 602.9,970.2 606.3,970.5 609.7,968.6 613.1,971.1 616.5,968.7 619.9,967.4 623.2,967.9 626.6,968.8 630.0,972.7 633.4,968.7 636.8,969.5 640.2,967.7 643.6,971.0 646.9,970.9 650.3,967.6 653.7,971.5 657.1,968.2 660.5,969.6 663.9,974.5 667.3,971.1 670.7,971.1 674.0,972.6 677.4,973.6" stroke="#44bf70"/>
<polyline points="184.2,553.0 187.5,562.6 190.9,601.2 194.3,647.8 197.7,655.4 201.1,666.9 204.5,690.9 207.9,718.7 211.3,748.7 214.6,770.5 218.0,787.2 221.4,802.2 224.8,824.8 228.2,839.3 231.6,836.5 235.0,838.9 238.3,848.1 241.7,843.4 245.1,856.2 248.5,857.8 251.9,860.0 255.3,858.0 258.7,875.0 262.0,870.4 265.4,872.4 268.8,879.2 272.2,876.5 275.6,885.8 279.0,889.9 282.4,892.0 285.7,891.8 289.1,895.8 292.5,892.5 295.9,898.1 299.3,907.4 302.7,899.9 306.1,908.0 309.5,917.2 312.8,920.1 316.2,915.8 319.6,913.6 323.0,921.0 326.4,918.8 329.8,918.5 333.2,923.0 336.5,927.7 339.9,932.0 343.3,931.4 346.7,926.8 350.1,931.8 353.5,936.0 356.9,935.6 360.2,936.5 363.6,934.5 367.0,941.0 370.4,936.5 373.8,942.8 377.2,944.3 380.6,949.6 383.9,947.3 387.3,948.8 390.7,948.8 394.1,953.1 397.5,951.9 400.9,956.8 404.3,956.4 407.7,949.9 411.0,956.8 414.4,958.2 417.8,955.4 421.2,958.3 424.6,953.1 428.0,959.1 431.4,958.4 434.7,960.9 438.1,958.6 441.5,961.4 444.9,956.5 448.3,963.8 451.7,961.9 455.1,961.8 458.4,965.8 461.8,965.1 465.2,965.9 468.6,968.1 472.0,964.6 475.4,971.0 478.8,968.4 482.2,968.5 485.5,966.2 488.9,967.3 492.3,965.4 495.7,965.4 499.1,967.6 502.5,969.9 505.9,967.1 509.2,969.9 512.6,969.4 516.0,968.9 519.4,966.5 522.8,964.5 526.2,967.1 529.6,970.2 532.9,967.8 536.3,967.3 539.7,971.1 543.1,969.4 546.5,970.9 549.9,970.9 553.3,969.7 556.6,969.7 560.0,971.3 563.4,970.0 566.8,972.3 570.2,970.4 573.6,969.9 577.0,971.1 580.4,972.9 583.7,971.6 587.1,969.7 590.5,968.7 593.9,968.7 597.3,968.6 600.7,967.4 604.1,971.1 607.4,968.4 610.8,971.8 614.2,967.4 617.6,968.7 621.0,972.1 624.4,969.2 627.8,968.7 631.1,971.8 634.5,969.8 637.9,968.9 641.3,967.2 644.7,971.4 648.1,967.7 651.5,972.1 654.8,971.8 658.2,968.1 661.6,969.1 665.0,971.7 668.4,967.7 671.8,969.5 675.2,970.1" stroke="#26828e"/>
<polyline points="193.2,553.0 196.6,571.6 200.0,597.9 203.3,636.7 206.7,688.5 210.1,718.9 213.5,752.2 216.9,771.1 220.3,816.0 223.7,816.0 227.1,836.1 230.4,839.3 233.8,844.5 237.2,848.5 240.6,856.8 244.0,861.6 247.4,878.2 250.8,878.9 254.1,894.8 257.5,890.6 260.9,905.4 264.3,901.3 267.7,908.8 271.1,913.1 274.5,916.5 277.8,915.4 281.2,919.6 284.6,923.6 288.0,919.0 291.4,924.4 294.8,921.6 298.2,927.5 301.6,929.5 304.9,920.2 308.3,926.5 311.7,925.9 315.1,931.7 318.5,932.5 321.9,934.2 325.3,931.0 328.6,937.2 332.0,941.5 335.4,944.6 338.8,947.0 342.2,947.0 345.6,951.3 349.0,952.7 352.3,951.0 355.7,953.0 359.1,954.5 362.5,953.0 365.9,958.2 369.3,961.1 372.7,962.9 376.0,960.4 379.4,960.4 382.8,959.6 386.2,965.0 389.6,965.4 393.0,963.8 396.4,964.5 399.8,967.1 403.1,965.2 406.5,964.0 409.9,966.2 413.3,961.7 416.7,965.0 420.1,968.2 423.5,967.4 426.8,969.9 430.2,963.6 433.6,968.3 437.0,968.6 440.4,967.0 443.8,969.1 447.2,970.0 450.5,969.1 453.9,967.4 457.3,967.6 460.7,972.0 464.1,972.6 467.5,969.1 470.9,970.6 474.2,971.0 477.6,968.5 481.0,969.6 484.4,971.4 487.8,969.5 491.2,971.9 494.6,971.5 498.0,967.4 501.3,971.1 504.7,969.8 508.1,971.2 511.5,971.3 514.9,972.7 518.3,972.8 521.7,968.7 525.0,967.1 528.4,969.7 531.8,969.9 535.2,971.9 538.6,971.1 542.0,968.4 545.4,966.6 548.7,969.9 552.1,970.4 555.5,969.2 558.9,970.9 562.3,972.4 565.7,972.7 569.1,971.7 572.5,971.9 575.8,975.3 579.2,974.3 582.6,969.9 586.0,969.6 589.4,969.9 592.8,971.7 596.2,972.5 599.5,971.4 602.9,970.8 606.3,972.2 609.7,969.5 613.1,972.6 616.5,975.5 619.9,970.3 623.2,969.9 626.6,971.8 630.0,969.7 633.4,969.4 636.8,975.9 640.2,970.8 643.6,973.6 646.9,970.3 650.3,971.1 653.7,970.1 657.1,972.0 660.5,972.5 663.9,971.0 667.3,967.4 670.7,970.8 674.0,973.3 677.4,971.6" stroke="#3e4989"/>
<polyline points="200.7,553.0 204.1,553.2 207.5,611.0 210.9,678.6 214.3,723.0 217.6,765.5 221.0,792.3 224.4,826.7 227.8,846.5 231.2,862.7 234.6,879.8 238.0,886.1 241.4,889.3 244.7,885.2 248.1,892.4 251.5,900.0 254.9,901.5 258.3,908.0 261.7,919.4 265.1,927.1 268.4,925.6 271.8,936.5 275.2,938.1 278.6,948.3 282.0,948.1 285.4,954.0 288.8,952.3 292.1,954.3 295.5,956.8 298.9,957.4 302.3,961.3 305.7,960.5 309.1,961.0 312.5,964.8 315.8,962.7 319.2,964.2 322.6,964.6 326.0,966.7 329.4,967.2 332.8,966.9 336.2,968.2 339.6,968.0 342.9,972.0 346.3,968.5 349.7,972.0 353.1,969.2 356.5,973.9 359.9,972.9 363.3,971.7 366.6,971.8 370.0,973.4 373.4,974.3 376.8,971.8 380.2,971.2 383.6,974.5 387.0,975.1 390.3,974.1 393.7,973.4 397.1,976.2 400.5,975.0 403.9,972.2 407.3,974.7 410.7,974.8 414.0,971.0 417.4,971.7 420.8,970.8 424.2,973.5 427.6,973.8 431.0,974.3 434.4,976.0 437.8,977.1 441.1,973.8 444.5,974.9 447.9,972.6 451.3,972.0 454.7,976.1 458.1,975.9 461.5,973.3 464.8,971.3 468.2,971.0 471.6,974.7 475.0,973.5 478.4,971.2 481.8,974.8 485.2,975.2 488.5,971.4 491.9,974.8 495.3,975.6 498.7,971.0 502.1,974.3 505.5,974.2 508.9,972.6 512.3,971.1 515.6,972.3 519.0,973.1 522.4,972.8 525.8,972.8 529.2,973.1 532.6,976.4 536.0,973.0 539.3,975.8 542.7,974.8 546.1,973.3 549.5,973.7 552.9,972.9 556.3,973.6 559.7,972.7 563.0,970.5 566.4,975.3 569.8,971.7 573.2,970.5 576.6,974.2 580.0,974.1 583.4,973.7 586.7,972.8 590.1,974.7 593.5,974.1 596.9,973.6 600.3,973.4 603.7,971.2 607.1,974.3 610.5,972.2 613.8,972.2 617.2,973.2 620.6,973.3 624.0,974.9 627.4,974.7 630.8,972.9 634.2,973.1 637.5,973.9 640.9,971.6 644.3,973.3 647.7,973.4 651.1,973.8 654.5,971.8 657.9,972.6 661.2,973.0 664.6,975.6 668.0,970.7 671.4,975.8 674.8,972.9" stroke="#440154"/>
</g>
<line x1="304" y1="123.8" x2="445" y2="123.8" stroke="#fff" stroke-width="6"/>
<line x1="306" y1="123.8" x2="547" y2="123.8" stroke="#000" stroke-width="2" stroke-dasharray="15.4 7.85"/>
<line x1="304" y1="281.9" x2="676" y2="281.9" stroke="#fff" stroke-width="6"/>
<line x1="306" y1="281.9" x2="676" y2="281.9" stroke="#000" stroke-width="2" stroke-dasharray="15.4 7.85"/>
<line x1="306" y1="433.9" x2="676" y2="433.9" stroke="#000" stroke-width="2" stroke-dasharray="15.4 7.85"/>
<line x1="389.3" y1="266.9" x2="560.3" y2="176.3" stroke="#fff" stroke-width="6"/>
<line x1="389.3" y1="266.9" x2="561" y2="175.9" stroke="#000" stroke-width="1.9"/>
<polygon points="580.9,165.3 555,166.1 565.5,186.5" fill="#000"/>
<line x1="224" y1="833.2" x2="300" y2="833.2" stroke="#fff" stroke-width="5"/>
<line x1="225.5" y1="833.2" x2="378" y2="833.2" stroke="#000" stroke-width="2" stroke-dasharray="15.9 7.8"/>
<line x1="224" y1="914.5" x2="520" y2="914.5" stroke="#fff" stroke-width="6.5"/>
<line x1="225.5" y1="914.5" x2="521" y2="914.5" stroke="#000" stroke-width="2" stroke-dasharray="15.9 7.8"/>
<line x1="225.5" y1="973.4" x2="676" y2="973.4" stroke="#000" stroke-width="2" stroke-dasharray="15.9 7.8"/>
<line x1="229.8" y1="652.3" x2="160" y2="824" stroke="#fff" stroke-width="5"/>
<line x1="229.8" y1="652.3" x2="160" y2="824" stroke="#000" stroke-width="1.9"/>
<polygon points="151.4,845.3 149.1,819.6 170.9,828.4" fill="#000"/>
<line x1="225.2" y1="900.7" x2="367.1" y2="867.5" stroke="#fff" stroke-width="5"/>
<line x1="225.2" y1="900.7" x2="367.1" y2="867.5" stroke="#000" stroke-width="1.9"/>
<polygon points="389.7,862.2 364.3,856.4 369.9,878.6" fill="#000"/>
<line x1="159.14" y1="457.8" x2="159.14" y2="452.3" stroke="#6a6a6a" stroke-width="1.3"/>
<line x1="159.14" y1="12.5" x2="159.14" y2="18.0" stroke="#6a6a6a" stroke-width="1.3"/>
<line x1="196.08" y1="457.8" x2="196.08" y2="452.3" stroke="#6a6a6a" stroke-width="1.3"/>
<line x1="196.08" y1="12.5" x2="196.08" y2="18.0" stroke="#6a6a6a" stroke-width="1.3"/>
<line x1="233.02" y1="457.8" x2="233.02" y2="452.3" stroke="#6a6a6a" stroke-width="1.3"/>
<line x1="233.02" y1="12.5" x2="233.02" y2="18.0" stroke="#6a6a6a" stroke-width="1.3"/>
<line x1="269.96" y1="457.8" x2="269.96" y2="452.3" stroke="#6a6a6a" stroke-width="1.3"/>
<line x1="269.96" y1="12.5" x2="269.96" y2="18.0" stroke="#6a6a6a" stroke-width="1.3"/>
<line x1="306.90" y1="457.8" x2="306.90" y2="446.8" stroke="#6a6a6a" stroke-width="1.3"/>
<line x1="306.90" y1="12.5" x2="306.90" y2="23.5" stroke="#6a6a6a" stroke-width="1.3"/>
<line x1="343.84" y1="457.8" x2="343.84" y2="452.3" stroke="#6a6a6a" stroke-width="1.3"/>
<line x1="343.84" y1="12.5" x2="343.84" y2="18.0" stroke="#6a6a6a" stroke-width="1.3"/>
<line x1="380.78" y1="457.8" x2="380.78" y2="452.3" stroke="#6a6a6a" stroke-width="1.3"/>
<line x1="380.78" y1="12.5" x2="380.78" y2="18.0" stroke="#6a6a6a" stroke-width="1.3"/>
<line x1="417.72" y1="457.8" x2="417.72" y2="452.3" stroke="#6a6a6a" stroke-width="1.3"/>
<line x1="417.72" y1="12.5" x2="417.72" y2="18.0" stroke="#6a6a6a" stroke-width="1.3"/>
<line x1="454.66" y1="457.8" x2="454.66" y2="452.3" stroke="#6a6a6a" stroke-width="1.3"/>
<line x1="454.66" y1="12.5" x2="454.66" y2="18.0" stroke="#6a6a6a" stroke-width="1.3"/>
<line x1="491.60" y1="457.8" x2="491.60" y2="446.8" stroke="#6a6a6a" stroke-width="1.3"/>
<line x1="491.60" y1="12.5" x2="491.60" y2="23.5" stroke="#6a6a6a" stroke-width="1.3"/>
<line x1="528.54" y1="457.8" x2="528.54" y2="452.3" stroke="#6a6a6a" stroke-width="1.3"/>
<line x1="528.54" y1="12.5" x2="528.54" y2="18.0" stroke="#6a6a6a" stroke-width="1.3"/>
<line x1="565.48" y1="457.8" x2="565.48" y2="452.3" stroke="#6a6a6a" stroke-width="1.3"/>
<line x1="565.48" y1="12.5" x2="565.48" y2="18.0" stroke="#6a6a6a" stroke-width="1.3"/>
<line x1="602.42" y1="457.8" x2="602.42" y2="452.3" stroke="#6a6a6a" stroke-width="1.3"/>
<line x1="602.42" y1="12.5" x2="602.42" y2="18.0" stroke="#6a6a6a" stroke-width="1.3"/>
<line x1="639.36" y1="457.8" x2="639.36" y2="452.3" stroke="#6a6a6a" stroke-width="1.3"/>
<line x1="639.36" y1="12.5" x2="639.36" y2="18.0" stroke="#6a6a6a" stroke-width="1.3"/>
<line x1="121.5" y1="436.60" x2="133.5" y2="436.60" stroke="#6a6a6a" stroke-width="1.3"/>
<line x1="676.0" y1="436.60" x2="664.0" y2="436.60" stroke="#6a6a6a" stroke-width="1.3"/>
<line x1="121.5" y1="415.40" x2="127.5" y2="415.40" stroke="#6a6a6a" stroke-width="1.3"/>
<line x1="676.0" y1="415.40" x2="670.0" y2="415.40" stroke="#6a6a6a" stroke-width="1.3"/>
<line x1="121.5" y1="394.19" x2="127.5" y2="394.19" stroke="#6a6a6a" stroke-width="1.3"/>
<line x1="676.0" y1="394.19" x2="670.0" y2="394.19" stroke="#6a6a6a" stroke-width="1.3"/>
<line x1="121.5" y1="372.99" x2="127.5" y2="372.99" stroke="#6a6a6a" stroke-width="1.3"/>
<line x1="676.0" y1="372.99" x2="670.0" y2="372.99" stroke="#6a6a6a" stroke-width="1.3"/>
<line x1="121.5" y1="351.78" x2="133.5" y2="351.78" stroke="#6a6a6a" stroke-width="1.3"/>
<line x1="676.0" y1="351.78" x2="664.0" y2="351.78" stroke="#6a6a6a" stroke-width="1.3"/>
<line x1="121.5" y1="330.58" x2="127.5" y2="330.58" stroke="#6a6a6a" stroke-width="1.3"/>
<line x1="676.0" y1="330.58" x2="670.0" y2="330.58" stroke="#6a6a6a" stroke-width="1.3"/>
<line x1="121.5" y1="309.37" x2="127.5" y2="309.37" stroke="#6a6a6a" stroke-width="1.3"/>
<line x1="676.0" y1="309.37" x2="670.0" y2="309.37" stroke="#6a6a6a" stroke-width="1.3"/>
<line x1="121.5" y1="288.17" x2="127.5" y2="288.17" stroke="#6a6a6a" stroke-width="1.3"/>
<line x1="676.0" y1="288.17" x2="670.0" y2="288.17" stroke="#6a6a6a" stroke-width="1.3"/>
<line x1="121.5" y1="266.96" x2="133.5" y2="266.96" stroke="#6a6a6a" stroke-width="1.3"/>
<line x1="676.0" y1="266.96" x2="664.0" y2="266.96" stroke="#6a6a6a" stroke-width="1.3"/>
<line x1="121.5" y1="245.76" x2="127.5" y2="245.76" stroke="#6a6a6a" stroke-width="1.3"/>
<line x1="676.0" y1="245.76" x2="670.0" y2="245.76" stroke="#6a6a6a" stroke-width="1.3"/>
<line x1="121.5" y1="224.55" x2="127.5" y2="224.55" stroke="#6a6a6a" stroke-width="1.3"/>
<line x1="676.0" y1="224.55" x2="670.0" y2="224.55" stroke="#6a6a6a" stroke-width="1.3"/>
<line x1="121.5" y1="203.35" x2="127.5" y2="203.35" stroke="#6a6a6a" stroke-width="1.3"/>
<line x1="676.0" y1="203.35" x2="670.0" y2="203.35" stroke="#6a6a6a" stroke-width="1.3"/>
<line x1="121.5" y1="182.14" x2="133.5" y2="182.14" stroke="#6a6a6a" stroke-width="1.3"/>
<line x1="676.0" y1="182.14" x2="664.0" y2="182.14" stroke="#6a6a6a" stroke-width="1.3"/>
<line x1="121.5" y1="160.94" x2="127.5" y2="160.94" stroke="#6a6a6a" stroke-width="1.3"/>
<line x1="676.0" y1="160.94" x2="670.0" y2="160.94" stroke="#6a6a6a" stroke-width="1.3"/>
<line x1="121.5" y1="139.73" x2="127.5" y2="139.73" stroke="#6a6a6a" stroke-width="1.3"/>
<line x1="676.0" y1="139.73" x2="670.0" y2="139.73" stroke="#6a6a6a" stroke-width="1.3"/>
<line x1="121.5" y1="118.53" x2="127.5" y2="118.53" stroke="#6a6a6a" stroke-width="1.3"/>
<line x1="676.0" y1="118.53" x2="670.0" y2="118.53" stroke="#6a6a6a" stroke-width="1.3"/>
<line x1="121.5" y1="97.32" x2="133.5" y2="97.32" stroke="#6a6a6a" stroke-width="1.3"/>
<line x1="676.0" y1="97.32" x2="664.0" y2="97.32" stroke="#6a6a6a" stroke-width="1.3"/>
<line x1="121.5" y1="76.12" x2="127.5" y2="76.12" stroke="#6a6a6a" stroke-width="1.3"/>
<line x1="676.0" y1="76.12" x2="670.0" y2="76.12" stroke="#6a6a6a" stroke-width="1.3"/>
<line x1="121.5" y1="54.91" x2="127.5" y2="54.91" stroke="#6a6a6a" stroke-width="1.3"/>
<line x1="676.0" y1="54.91" x2="670.0" y2="54.91" stroke="#6a6a6a" stroke-width="1.3"/>
<line x1="121.5" y1="33.71" x2="127.5" y2="33.71" stroke="#6a6a6a" stroke-width="1.3"/>
<line x1="676.0" y1="33.71" x2="670.0" y2="33.71" stroke="#6a6a6a" stroke-width="1.3"/>
<rect x="121.5" y="12.5" width="554.5" height="445.3" fill="none" stroke="#2a2a2a" stroke-width="1.7"/>
<line x1="151.05" y1="1006.0" x2="151.05" y2="1000.5" stroke="#6a6a6a" stroke-width="1.3"/>
<line x1="151.05" y1="553.0" x2="151.05" y2="558.5" stroke="#6a6a6a" stroke-width="1.3"/>
<line x1="188.68" y1="1006.0" x2="188.68" y2="1000.5" stroke="#6a6a6a" stroke-width="1.3"/>
<line x1="188.68" y1="553.0" x2="188.68" y2="558.5" stroke="#6a6a6a" stroke-width="1.3"/>
<line x1="226.30" y1="1006.0" x2="226.30" y2="995.0" stroke="#6a6a6a" stroke-width="1.3"/>
<line x1="226.30" y1="553.0" x2="226.30" y2="564.0" stroke="#6a6a6a" stroke-width="1.3"/>
<line x1="263.93" y1="1006.0" x2="263.93" y2="1000.5" stroke="#6a6a6a" stroke-width="1.3"/>
<line x1="263.93" y1="553.0" x2="263.93" y2="558.5" stroke="#6a6a6a" stroke-width="1.3"/>
<line x1="301.55" y1="1006.0" x2="301.55" y2="1000.5" stroke="#6a6a6a" stroke-width="1.3"/>
<line x1="301.55" y1="553.0" x2="301.55" y2="558.5" stroke="#6a6a6a" stroke-width="1.3"/>
<line x1="339.18" y1="1006.0" x2="339.18" y2="1000.5" stroke="#6a6a6a" stroke-width="1.3"/>
<line x1="339.18" y1="553.0" x2="339.18" y2="558.5" stroke="#6a6a6a" stroke-width="1.3"/>
<line x1="376.80" y1="1006.0" x2="376.80" y2="995.0" stroke="#6a6a6a" stroke-width="1.3"/>
<line x1="376.80" y1="553.0" x2="376.80" y2="564.0" stroke="#6a6a6a" stroke-width="1.3"/>
<line x1="414.43" y1="1006.0" x2="414.43" y2="1000.5" stroke="#6a6a6a" stroke-width="1.3"/>
<line x1="414.43" y1="553.0" x2="414.43" y2="558.5" stroke="#6a6a6a" stroke-width="1.3"/>
<line x1="452.05" y1="1006.0" x2="452.05" y2="1000.5" stroke="#6a6a6a" stroke-width="1.3"/>
<line x1="452.05" y1="553.0" x2="452.05" y2="558.5" stroke="#6a6a6a" stroke-width="1.3"/>
<line x1="489.68" y1="1006.0" x2="489.68" y2="1000.5" stroke="#6a6a6a" stroke-width="1.3"/>
<line x1="489.68" y1="553.0" x2="489.68" y2="558.5" stroke="#6a6a6a" stroke-width="1.3"/>
<line x1="527.30" y1="1006.0" x2="527.30" y2="995.0" stroke="#6a6a6a" stroke-width="1.3"/>
<line x1="527.30" y1="553.0" x2="527.30" y2="564.0" stroke="#6a6a6a" stroke-width="1.3"/>
<line x1="564.92" y1="1006.0" x2="564.92" y2="1000.5" stroke="#6a6a6a" stroke-width="1.3"/>
<line x1="564.92" y1="553.0" x2="564.92" y2="558.5" stroke="#6a6a6a" stroke-width="1.3"/>
<line x1="602.55" y1="1006.0" x2="602.55" y2="1000.5" stroke="#6a6a6a" stroke-width="1.3"/>
<line x1="602.55" y1="553.0" x2="602.55" y2="558.5" stroke="#6a6a6a" stroke-width="1.3"/>
<line x1="640.17" y1="1006.0" x2="640.17" y2="1000.5" stroke="#6a6a6a" stroke-width="1.3"/>
<line x1="640.17" y1="553.0" x2="640.17" y2="558.5" stroke="#6a6a6a" stroke-width="1.3"/>
<line x1="113.5" y1="984.50" x2="125.5" y2="984.50" stroke="#6a6a6a" stroke-width="1.3"/>
<line x1="677.7" y1="984.50" x2="665.7" y2="984.50" stroke="#6a6a6a" stroke-width="1.3"/>
<line x1="113.5" y1="962.92" x2="119.5" y2="962.92" stroke="#6a6a6a" stroke-width="1.3"/>
<line x1="677.7" y1="962.92" x2="671.7" y2="962.92" stroke="#6a6a6a" stroke-width="1.3"/>
<line x1="113.5" y1="941.35" x2="119.5" y2="941.35" stroke="#6a6a6a" stroke-width="1.3"/>
<line x1="677.7" y1="941.35" x2="671.7" y2="941.35" stroke="#6a6a6a" stroke-width="1.3"/>
<line x1="113.5" y1="919.77" x2="119.5" y2="919.77" stroke="#6a6a6a" stroke-width="1.3"/>
<line x1="677.7" y1="919.77" x2="671.7" y2="919.77" stroke="#6a6a6a" stroke-width="1.3"/>
<line x1="113.5" y1="898.20" x2="119.5" y2="898.20" stroke="#6a6a6a" stroke-width="1.3"/>
<line x1="677.7" y1="898.20" x2="671.7" y2="898.20" stroke="#6a6a6a" stroke-width="1.3"/>
<line x1="113.5" y1="876.62" x2="125.5" y2="876.62" stroke="#6a6a6a" stroke-width="1.3"/>
<line x1="677.7" y1="876.62" x2="665.7" y2="876.62" stroke="#6a6a6a" stroke-width="1.3"/>
<line x1="113.5" y1="855.05" x2="119.5" y2="855.05" stroke="#6a6a6a" stroke-width="1.3"/>
<line x1="677.7" y1="855.05" x2="671.7" y2="855.05" stroke="#6a6a6a" stroke-width="1.3"/>
<line x1="113.5" y1="833.48" x2="119.5" y2="833.48" stroke="#6a6a6a" stroke-width="1.3"/>
<line x1="677.7" y1="833.48" x2="671.7" y2="833.48" stroke="#6a6a6a" stroke-width="1.3"/>
<line x1="113.5" y1="811.90" x2="119.5" y2="811.90" stroke="#6a6a6a" stroke-width="1.3"/>
<line x1="677.7" y1="811.90" x2="671.7" y2="811.90" stroke="#6a6a6a" stroke-width="1.3"/>
<line x1="113.5" y1="790.33" x2="119.5" y2="790.33" stroke="#6a6a6a" stroke-width="1.3"/>
<line x1="677.7" y1="790.33" x2="671.7" y2="790.33" stroke="#6a6a6a" stroke-width="1.3"/>
<line x1="113.5" y1="768.75" x2="125.5" y2="768.75" stroke="#6a6a6a" stroke-width="1.3"/>
<line x1="677.7" y1="768.75" x2="665.7" y2="768.75" stroke="#6a6a6a" stroke-width="1.3"/>
<line x1="113.5" y1="747.17" x2="119.5" y2="747.17" stroke="#6a6a6a" stroke-width="1.3"/>
<line x1="677.7" y1="747.17" x2="671.7" y2="747.17" stroke="#6a6a6a" stroke-width="1.3"/>
<line x1="113.5" y1="725.60" x2="119.5" y2="725.60" stroke="#6a6a6a" stroke-width="1.3"/>
<line x1="677.7" y1="725.60" x2="671.7" y2="725.60" stroke="#6a6a6a" stroke-width="1.3"/>
<line x1="113.5" y1="704.02" x2="119.5" y2="704.02" stroke="#6a6a6a" stroke-width="1.3"/>
<line x1="677.7" y1="704.02" x2="671.7" y2="704.02" stroke="#6a6a6a" stroke-width="1.3"/>
<line x1="113.5" y1="682.45" x2="119.5" y2="682.45" stroke="#6a6a6a" stroke-width="1.3"/>
<line x1="677.7" y1="682.45" x2="671.7" y2="682.45" stroke="#6a6a6a" stroke-width="1.3"/>
<line x1="113.5" y1="660.88" x2="125.5" y2="660.88" stroke="#6a6a6a" stroke-width="1.3"/>
<line x1="677.7" y1="660.88" x2="665.7" y2="660.88" stroke="#6a6a6a" stroke-width="1.3"/>
<line x1="113.5" y1="639.30" x2="119.5" y2="639.30" stroke="#6a6a6a" stroke-width="1.3"/>
<line x1="677.7" y1="639.30" x2="671.7" y2="639.30" stroke="#6a6a6a" stroke-width="1.3"/>
<line x1="113.5" y1="617.72" x2="119.5" y2="617.72" stroke="#6a6a6a" stroke-width="1.3"/>
<line x1="677.7" y1="617.72" x2="671.7" y2="617.72" stroke="#6a6a6a" stroke-width="1.3"/>
<line x1="113.5" y1="596.15" x2="119.5" y2="596.15" stroke="#6a6a6a" stroke-width="1.3"/>
<line x1="677.7" y1="596.15" x2="671.7" y2="596.15" stroke="#6a6a6a" stroke-width="1.3"/>
<line x1="113.5" y1="574.58" x2="119.5" y2="574.58" stroke="#6a6a6a" stroke-width="1.3"/>
<line x1="677.7" y1="574.58" x2="671.7" y2="574.58" stroke="#6a6a6a" stroke-width="1.3"/>
<rect x="113.5" y="553.0" width="564.2" height="453.0" fill="none" stroke="#3a3a3a" stroke-width="1.7"/>
<g font-family='"Liberation Sans", sans-serif' font-size="27.5" fill="#000">
<text x="106.8" y="20.2" text-anchor="end">1000</text>
<text x="106.8" y="105.0" text-anchor="end">800</text>
<text x="106.8" y="189.8" text-anchor="end">600</text>
<text x="106.8" y="274.7" text-anchor="end">400</text>
<text x="106.8" y="359.5" text-anchor="end">200</text>
<text x="106.8" y="444.3" text-anchor="end">0</text>
<text x="113" y="489.1">-50</text>
<text x="306.4" y="489.1" text-anchor="middle">0</text>
<text x="491.4" y="489.1" text-anchor="middle">50</text>
<text x="683.9" y="489.1" text-anchor="end">100</text>
<text x="99" y="561.5" text-anchor="end">200</text>
<text x="99" y="669.4" text-anchor="end">150</text>
<text x="99" y="777.2" text-anchor="end">100</text>
<text x="99" y="885.1" text-anchor="end">50</text>
<text x="99" y="993.0" text-anchor="end">0</text>
<text x="226.3" y="1036.9" text-anchor="middle">0</text>
<text x="376.6" y="1036.9" text-anchor="middle">20</text>
<text x="527.3" y="1036.9" text-anchor="middle">40</text>
<text x="654.2" y="1036.9">60</text>
</g>
<text font-family='"Liberation Sans", sans-serif' font-size="29" x="290.5" y="526.2" textLength="215" lengthAdjust="spacingAndGlyphs">Distance, x (μm)</text>
<text font-family='"Liberation Sans", sans-serif' font-size="29" x="285.7" y="1075.2" textLength="215" lengthAdjust="spacingAndGlyphs">Distance, x (μm)</text>
<text font-family='"Liberation Sans", sans-serif' font-size="31" transform="translate(29.7,418.6) rotate(-90)" textLength="368.8" lengthAdjust="spacingAndGlyphs">K Concentration, C (mol/m<tspan font-size="19" dy="-15.3">3</tspan><tspan dy="15.3">)</tspan></text>
<text font-family='"Liberation Sans", sans-serif' font-size="31" transform="translate(35.8,976.2) rotate(-90)" textLength="394.0" lengthAdjust="spacingAndGlyphs">Cu Concentration, C (mol/m<tspan font-size="19" dy="-15.3">3</tspan><tspan dy="15.3">)</tspan></text>
<text font-family='"Liberation Sans", sans-serif' font-size="29" x="460" y="58" textLength="197.5" lengthAdjust="spacingAndGlyphs">K (KCl) 75% RH</text>
<text font-family='"Liberation Sans", sans-serif' font-size="28" x="412.3" y="599.7" textLength="246.5" lengthAdjust="spacingAndGlyphs">Cu (CuCl<tspan font-size="18" dy="6">2</tspan><tspan dy="-6">) 75% RH</tspan></text>
<text font-family='"Liberation Sans", sans-serif' font-style="italic" font-weight="normal" font-size="25.21" stroke="#000" stroke-width="0.45" transform="translate(572.56,129.75) scale(0.822,1)">C</text>
<text font-family='"Liberation Sans", sans-serif' font-style="italic" font-weight="normal" font-size="14.55" stroke="#000" stroke-width="0.45" transform="translate(589.90,137.45) scale(0.816,1)">s</text>
<text font-family='"Liberation Sans", sans-serif' font-style="italic" font-weight="normal" font-size="24.65" stroke="#000" stroke-width="0.45" transform="translate(270.79,427.95) scale(0.823,1)">C</text>
<text font-family='"Liberation Sans", sans-serif' font-style="italic" font-weight="normal" font-size="14.00" stroke="#000" stroke-width="0.45" transform="translate(287.47,435.46) scale(1.014,1)">o</text>
<text font-family='"Liberation Sans", sans-serif' font-style="italic" font-weight="normal" font-size="25.35" stroke="#000" stroke-width="0.45" transform="translate(389.93,836.95) scale(0.841,1)">C</text>
<text font-family='"Liberation Sans", sans-serif' font-style="italic" font-weight="normal" font-size="14.36" stroke="#000" stroke-width="0.45" transform="translate(407.60,844.46) scale(0.841,1)">s</text>
<text font-family='"Liberation Sans", sans-serif' font-style="italic" font-weight="normal" font-size="25.07" stroke="#000" stroke-width="0.45" transform="translate(189.67,976.75) scale(0.821,1)">C</text>
<text font-family='"Liberation Sans", sans-serif' font-style="italic" font-weight="normal" font-size="14.36" stroke="#000" stroke-width="0.45" transform="translate(206.26,984.46) scale(1.030,1)">o</text>
<text font-family='"Liberation Sans", sans-serif' font-style="normal" font-weight="bold" font-size="41.09" transform="translate(13.89,518.09) scale(0.822,1)">a</text>
<text font-family='"Liberation Sans", sans-serif' font-style="normal" font-weight="bold" font-size="38.77" transform="translate(15.87,1067.51) scale(1.006,1)">b</text>
<text font-family='"Liberation Sans", sans-serif' font-style="italic" font-weight="normal" font-size="23.62" stroke="#000" stroke-width="0.45" transform="translate(177.43,268.20) scale(0.943,1)">1</text>
<text font-family='"Liberation Sans", sans-serif' font-style="italic" font-weight="normal" font-size="24.57" stroke="#000" stroke-width="0.45" transform="translate(176.63,309.70) scale(0.955,1)">2</text>
<line x1="173.4" y1="280" x2="193.5" y2="280" stroke="#6e6e6e" stroke-width="1.5"/>
<path d="M205.8,260.6 C197.80,269.90 197.80,284.50 205.8,293.8" fill="none" stroke="#000" stroke-width="1.8" stroke-linecap="round"/>
<text font-family='"Liberation Sans", sans-serif' font-style="italic" font-weight="normal" font-size="24.79" stroke="#000" stroke-width="0.45" transform="translate(206.31,286.75) scale(0.801,1)">C</text>
<text font-family='"Liberation Sans", sans-serif' font-style="italic" font-weight="normal" font-size="13.27" stroke="#000" stroke-width="0.45" transform="translate(222.20,293.57) scale(0.879,1)">s</text>
<line x1="238.2" y1="279.4" x2="252.5" y2="279.4" stroke="#333" stroke-width="1.4"/>
<text font-family='"Liberation Sans", sans-serif' font-style="italic" font-weight="normal" font-size="25.07" stroke="#000" stroke-width="0.45" transform="translate(257.69,286.85) scale(0.809,1)">C</text>
<text font-family='"Liberation Sans", sans-serif' font-style="italic" font-weight="normal" font-size="13.09" stroke="#000" stroke-width="0.45" transform="translate(274.71,293.17) scale(0.993,1)">o</text>
<path d="M288.2,260.4 C296.13,269.84 296.13,284.66 287.8,294.1" fill="none" stroke="#000" stroke-width="1.8" stroke-linecap="round"/>
<text font-family='"Liberation Sans", sans-serif' font-style="italic" font-weight="normal" font-size="23.62" stroke="#000" stroke-width="0.45" transform="translate(538.43,900.10) scale(0.943,1)">1</text>
<text font-family='"Liberation Sans", sans-serif' font-style="italic" font-weight="normal" font-size="24.57" stroke="#000" stroke-width="0.45" transform="translate(537.63,941.60) scale(0.955,1)">2</text>
<line x1="534.4" y1="911.9" x2="554.5" y2="911.9" stroke="#6e6e6e" stroke-width="1.5"/>
<path d="M566.8,892.5 C558.80,901.80 558.80,916.40 566.8,925.7" fill="none" stroke="#000" stroke-width="1.8" stroke-linecap="round"/>
<text font-family='"Liberation Sans", sans-serif' font-style="italic" font-weight="normal" font-size="24.79" stroke="#000" stroke-width="0.45" transform="translate(567.31,918.65) scale(0.801,1)">C</text>
<text font-family='"Liberation Sans", sans-serif' font-style="italic" font-weight="normal" font-size="13.27" stroke="#000" stroke-width="0.45" transform="translate(583.20,925.47) scale(0.879,1)">s</text>
<line x1="599.2" y1="911.3" x2="613.5" y2="911.3" stroke="#333" stroke-width="1.4"/>
<text font-family='"Liberation Sans", sans-serif' font-style="italic" font-weight="normal" font-size="25.07" stroke="#000" stroke-width="0.45" transform="translate(618.69,918.75) scale(0.809,1)">C</text>
<text font-family='"Liberation Sans", sans-serif' font-style="italic" font-weight="normal" font-size="13.09" stroke="#000" stroke-width="0.45" transform="translate(635.71,925.07) scale(0.993,1)">o</text>
<path d="M649.2,892.3 C657.13,901.74 657.13,916.56 648.8,926.0" fill="none" stroke="#000" stroke-width="1.8" stroke-linecap="round"/>
</svg></body></html>
